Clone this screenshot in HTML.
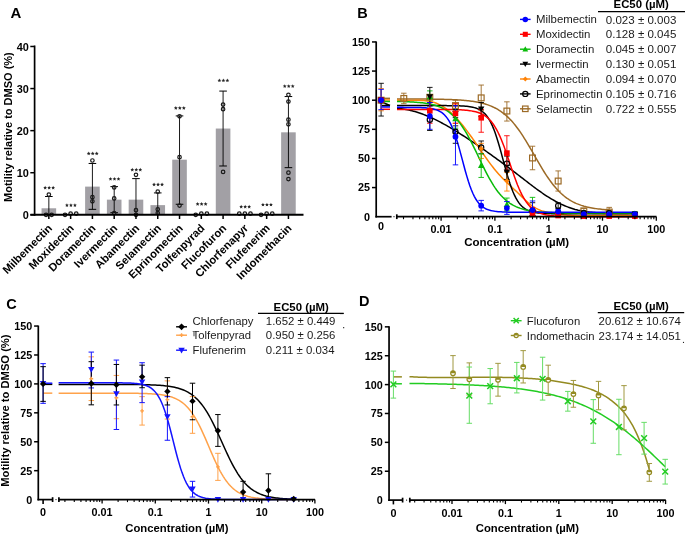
<!DOCTYPE html>
<html><head><meta charset="utf-8"><style>
html,body{margin:0;padding:0;background:#fff;overflow:hidden;}
svg{display:block;font-family:"Liberation Sans", sans-serif;will-change:transform;}
</style></head><body>
<svg width="685" height="535" viewBox="0 0 685 535">
<rect width="685" height="535" fill="#fff"/>
<text x="10.5" y="18.2" font-size="15" font-weight="bold" text-anchor="start" fill="#000" >A</text>
<text transform="translate(12.1,127.1) rotate(-90)" font-size="11" font-weight="bold" text-anchor="middle">Motility relative to DMSO (%)</text>
<rect x="41.55" y="208.28" width="14.6" height="6.52" fill="#a2a0a5" />
<rect x="63.33" y="214.17" width="14.6" height="0.63" fill="#a2a0a5" />
<rect x="85.11" y="186.61" width="14.6" height="28.19" fill="#a2a0a5" />
<rect x="106.89" y="199.65" width="14.6" height="15.15" fill="#a2a0a5" />
<rect x="128.67" y="199.65" width="14.6" height="15.15" fill="#a2a0a5" />
<rect x="150.45" y="205.12" width="14.6" height="9.68" fill="#a2a0a5" />
<rect x="172.23" y="159.68" width="14.6" height="55.12" fill="#a2a0a5" />
<rect x="194.01" y="214.38" width="14.6" height="0.42" fill="#a2a0a5" />
<rect x="215.79" y="128.54" width="14.6" height="86.26" fill="#a2a0a5" />
<rect x="237.57" y="213.96" width="14.6" height="0.84" fill="#a2a0a5" />
<rect x="259.35" y="214.38" width="14.6" height="0.42" fill="#a2a0a5" />
<rect x="281.13" y="132.32" width="14.6" height="82.48" fill="#a2a0a5" />
<line x1="48.85" y1="196.5" x2="48.85" y2="214.8" stroke="#000" stroke-width="0.9" />
<line x1="45.05" y1="196.5" x2="52.65" y2="196.5" stroke="#000" stroke-width="1.0" />
<circle cx="48.85" cy="194.6" r="1.75" fill="none" stroke="#1a1a1a" stroke-width="1.2"/>
<circle cx="46.05" cy="214.8" r="1.75" fill="none" stroke="#1a1a1a" stroke-width="1.2"/>
<circle cx="51.65" cy="214.8" r="1.75" fill="none" stroke="#1a1a1a" stroke-width="1.2"/>
<path d="M45.15 185.8L45.71 187.03L47.05 187.18L46.05 188.09L46.33 189.42L45.15 188.75L43.97 189.42L44.25 188.09L43.25 187.18L44.59 187.03Z" fill="#262626"/>
<path d="M49.15 185.8L49.71 187.03L51.05 187.18L50.05 188.09L50.33 189.42L49.15 188.75L47.97 189.42L48.25 188.09L47.25 187.18L48.59 187.03Z" fill="#262626"/>
<path d="M53.15 185.8L53.71 187.03L55.05 187.18L54.05 188.09L54.33 189.42L53.15 188.75L51.97 189.42L52.25 188.09L51.25 187.18L52.59 187.03Z" fill="#262626"/>
<circle cx="65.03" cy="214.8" r="1.75" fill="none" stroke="#1a1a1a" stroke-width="1.2"/>
<circle cx="70.63" cy="213.54" r="1.75" fill="none" stroke="#1a1a1a" stroke-width="1.2"/>
<circle cx="76.23" cy="213.54" r="1.75" fill="none" stroke="#1a1a1a" stroke-width="1.2"/>
<path d="M66.93 203.3L67.49 204.53L68.83 204.68L67.83 205.59L68.11 206.92L66.93 206.25L65.75 206.92L66.03 205.59L65.03 204.68L66.37 204.53Z" fill="#262626"/>
<path d="M70.93 203.3L71.49 204.53L72.83 204.68L71.83 205.59L72.11 206.92L70.93 206.25L69.75 206.92L70.03 205.59L69.03 204.68L70.37 204.53Z" fill="#262626"/>
<path d="M74.93 203.3L75.49 204.53L76.83 204.68L75.83 205.59L76.11 206.92L74.93 206.25L73.75 206.92L74.03 205.59L73.03 204.68L74.37 204.53Z" fill="#262626"/>
<line x1="92.41" y1="163.46" x2="92.41" y2="209.33" stroke="#000" stroke-width="0.9" />
<line x1="88.61" y1="163.46" x2="96.21" y2="163.46" stroke="#000" stroke-width="1.0" />
<line x1="88.61" y1="209.33" x2="96.21" y2="209.33" stroke="#000" stroke-width="1.0" />
<circle cx="92.41" cy="160.52" r="1.75" fill="none" stroke="#1a1a1a" stroke-width="1.2"/>
<circle cx="92.41" cy="197.13" r="1.75" fill="none" stroke="#1a1a1a" stroke-width="1.2"/>
<circle cx="92.41" cy="201.33" r="1.75" fill="none" stroke="#1a1a1a" stroke-width="1.2"/>
<path d="M88.71 151.6L89.27 152.83L90.61 152.98L89.61 153.89L89.89 155.22L88.71 154.55L87.53 155.22L87.81 153.89L86.81 152.98L88.15 152.83Z" fill="#262626"/>
<path d="M92.71 151.6L93.27 152.83L94.61 152.98L93.61 153.89L93.89 155.22L92.71 154.55L91.53 155.22L91.81 153.89L90.81 152.98L92.15 152.83Z" fill="#262626"/>
<path d="M96.71 151.6L97.27 152.83L98.61 152.98L97.61 153.89L97.89 155.22L96.71 154.55L95.53 155.22L95.81 153.89L94.81 152.98L96.15 152.83Z" fill="#262626"/>
<line x1="114.19" y1="186.61" x2="114.19" y2="212.7" stroke="#000" stroke-width="0.9" />
<line x1="110.39" y1="186.61" x2="117.99" y2="186.61" stroke="#000" stroke-width="1.0" />
<line x1="110.39" y1="212.7" x2="117.99" y2="212.7" stroke="#000" stroke-width="1.0" />
<circle cx="114.19" cy="187.45" r="1.75" fill="none" stroke="#1a1a1a" stroke-width="1.2"/>
<circle cx="114.19" cy="198.39" r="1.75" fill="none" stroke="#1a1a1a" stroke-width="1.2"/>
<circle cx="114.19" cy="213.12" r="1.75" fill="none" stroke="#1a1a1a" stroke-width="1.2"/>
<path d="M110.49 177L111.05 178.23L112.39 178.38L111.39 179.29L111.67 180.62L110.49 179.95L109.31 180.62L109.59 179.29L108.59 178.38L109.93 178.23Z" fill="#262626"/>
<path d="M114.49 177L115.05 178.23L116.39 178.38L115.39 179.29L115.67 180.62L114.49 179.95L113.31 180.62L113.59 179.29L112.59 178.38L113.93 178.23Z" fill="#262626"/>
<path d="M118.49 177L119.05 178.23L120.39 178.38L119.39 179.29L119.67 180.62L118.49 179.95L117.31 180.62L117.59 179.29L116.59 178.38L117.93 178.23Z" fill="#262626"/>
<line x1="135.97" y1="178.61" x2="135.97" y2="214.8" stroke="#000" stroke-width="0.9" />
<line x1="132.17" y1="178.61" x2="139.77" y2="178.61" stroke="#000" stroke-width="1.0" />
<circle cx="135.97" cy="174.82" r="1.75" fill="none" stroke="#1a1a1a" stroke-width="1.2"/>
<circle cx="135.97" cy="210.17" r="1.75" fill="none" stroke="#1a1a1a" stroke-width="1.2"/>
<circle cx="135.97" cy="214.8" r="1.75" fill="none" stroke="#1a1a1a" stroke-width="1.2"/>
<path d="M132.27 167.8L132.83 169.03L134.17 169.18L133.17 170.09L133.45 171.42L132.27 170.75L131.09 171.42L131.37 170.09L130.37 169.18L131.71 169.03Z" fill="#262626"/>
<path d="M136.27 167.8L136.83 169.03L138.17 169.18L137.17 170.09L137.45 171.42L136.27 170.75L135.09 171.42L135.37 170.09L134.37 169.18L135.71 169.03Z" fill="#262626"/>
<path d="M140.27 167.8L140.83 169.03L142.17 169.18L141.17 170.09L141.45 171.42L140.27 170.75L139.09 171.42L139.37 170.09L138.37 169.18L139.71 169.03Z" fill="#262626"/>
<line x1="157.75" y1="192.92" x2="157.75" y2="214.8" stroke="#000" stroke-width="0.9" />
<line x1="153.95" y1="192.92" x2="161.55" y2="192.92" stroke="#000" stroke-width="1.0" />
<circle cx="157.75" cy="191.66" r="1.75" fill="none" stroke="#1a1a1a" stroke-width="1.2"/>
<circle cx="157.75" cy="209.33" r="1.75" fill="none" stroke="#1a1a1a" stroke-width="1.2"/>
<circle cx="157.75" cy="213.12" r="1.75" fill="none" stroke="#1a1a1a" stroke-width="1.2"/>
<path d="M154.05 182.6L154.61 183.83L155.95 183.98L154.95 184.89L155.23 186.22L154.05 185.55L152.87 186.22L153.15 184.89L152.15 183.98L153.49 183.83Z" fill="#262626"/>
<path d="M158.05 182.6L158.61 183.83L159.95 183.98L158.95 184.89L159.23 186.22L158.05 185.55L156.87 186.22L157.15 184.89L156.15 183.98L157.49 183.83Z" fill="#262626"/>
<path d="M162.05 182.6L162.61 183.83L163.95 183.98L162.95 184.89L163.23 186.22L162.05 185.55L160.87 186.22L161.15 184.89L160.15 183.98L161.49 183.83Z" fill="#262626"/>
<line x1="179.53" y1="115.91" x2="179.53" y2="204.28" stroke="#000" stroke-width="0.9" />
<line x1="175.73" y1="115.91" x2="183.33" y2="115.91" stroke="#000" stroke-width="1.0" />
<line x1="175.73" y1="204.28" x2="183.33" y2="204.28" stroke="#000" stroke-width="1.0" />
<circle cx="179.53" cy="116.33" r="1.75" fill="none" stroke="#1a1a1a" stroke-width="1.2"/>
<circle cx="179.53" cy="157.15" r="1.75" fill="none" stroke="#1a1a1a" stroke-width="1.2"/>
<circle cx="179.53" cy="205.54" r="1.75" fill="none" stroke="#1a1a1a" stroke-width="1.2"/>
<path d="M175.83 106.1L176.39 107.33L177.73 107.48L176.73 108.39L177.01 109.72L175.83 109.05L174.65 109.72L174.93 108.39L173.93 107.48L175.27 107.33Z" fill="#262626"/>
<path d="M179.83 106.1L180.39 107.33L181.73 107.48L180.73 108.39L181.01 109.72L179.83 109.05L178.65 109.72L178.93 108.39L177.93 107.48L179.27 107.33Z" fill="#262626"/>
<path d="M183.83 106.1L184.39 107.33L185.73 107.48L184.73 108.39L185.01 109.72L183.83 109.05L182.65 109.72L182.93 108.39L181.93 107.48L183.27 107.33Z" fill="#262626"/>
<circle cx="195.71" cy="214.8" r="1.75" fill="none" stroke="#1a1a1a" stroke-width="1.2"/>
<circle cx="201.31" cy="213.54" r="1.75" fill="none" stroke="#1a1a1a" stroke-width="1.2"/>
<circle cx="206.91" cy="213.54" r="1.75" fill="none" stroke="#1a1a1a" stroke-width="1.2"/>
<path d="M197.61 202.1L198.17 203.33L199.51 203.48L198.51 204.39L198.79 205.72L197.61 205.05L196.43 205.72L196.71 204.39L195.71 203.48L197.05 203.33Z" fill="#262626"/>
<path d="M201.61 202.1L202.17 203.33L203.51 203.48L202.51 204.39L202.79 205.72L201.61 205.05L200.43 205.72L200.71 204.39L199.71 203.48L201.05 203.33Z" fill="#262626"/>
<path d="M205.61 202.1L206.17 203.33L207.51 203.48L206.51 204.39L206.79 205.72L205.61 205.05L204.43 205.72L204.71 204.39L203.71 203.48L205.05 203.33Z" fill="#262626"/>
<line x1="223.09" y1="91.08" x2="223.09" y2="165.99" stroke="#000" stroke-width="0.9" />
<line x1="219.29" y1="91.08" x2="226.89" y2="91.08" stroke="#000" stroke-width="1.0" />
<line x1="219.29" y1="165.99" x2="226.89" y2="165.99" stroke="#000" stroke-width="1.0" />
<circle cx="223.09" cy="104.55" r="1.75" fill="none" stroke="#1a1a1a" stroke-width="1.2"/>
<circle cx="223.09" cy="109.18" r="1.75" fill="none" stroke="#1a1a1a" stroke-width="1.2"/>
<circle cx="223.09" cy="171.88" r="1.75" fill="none" stroke="#1a1a1a" stroke-width="1.2"/>
<path d="M219.39 78.5L219.95 79.73L221.29 79.88L220.29 80.79L220.57 82.12L219.39 81.45L218.21 82.12L218.49 80.79L217.49 79.88L218.83 79.73Z" fill="#262626"/>
<path d="M223.39 78.5L223.95 79.73L225.29 79.88L224.29 80.79L224.57 82.12L223.39 81.45L222.21 82.12L222.49 80.79L221.49 79.88L222.83 79.73Z" fill="#262626"/>
<path d="M227.39 78.5L227.95 79.73L229.29 79.88L228.29 80.79L228.57 82.12L227.39 81.45L226.21 82.12L226.49 80.79L225.49 79.88L226.83 79.73Z" fill="#262626"/>
<circle cx="239.27" cy="213.54" r="1.75" fill="none" stroke="#1a1a1a" stroke-width="1.2"/>
<circle cx="244.87" cy="213.54" r="1.75" fill="none" stroke="#1a1a1a" stroke-width="1.2"/>
<circle cx="250.47" cy="213.54" r="1.75" fill="none" stroke="#1a1a1a" stroke-width="1.2"/>
<path d="M241.17 204.8L241.73 206.03L243.07 206.18L242.07 207.09L242.35 208.42L241.17 207.75L239.99 208.42L240.27 207.09L239.27 206.18L240.61 206.03Z" fill="#262626"/>
<path d="M245.17 204.8L245.73 206.03L247.07 206.18L246.07 207.09L246.35 208.42L245.17 207.75L243.99 208.42L244.27 207.09L243.27 206.18L244.61 206.03Z" fill="#262626"/>
<path d="M249.17 204.8L249.73 206.03L251.07 206.18L250.07 207.09L250.35 208.42L249.17 207.75L247.99 208.42L248.27 207.09L247.27 206.18L248.61 206.03Z" fill="#262626"/>
<circle cx="261.05" cy="214.8" r="1.75" fill="none" stroke="#1a1a1a" stroke-width="1.2"/>
<circle cx="266.65" cy="213.54" r="1.75" fill="none" stroke="#1a1a1a" stroke-width="1.2"/>
<circle cx="272.25" cy="213.54" r="1.75" fill="none" stroke="#1a1a1a" stroke-width="1.2"/>
<path d="M262.95 202.7L263.51 203.93L264.85 204.08L263.85 204.99L264.13 206.32L262.95 205.65L261.77 206.32L262.05 204.99L261.05 204.08L262.39 203.93Z" fill="#262626"/>
<path d="M266.95 202.7L267.51 203.93L268.85 204.08L267.85 204.99L268.13 206.32L266.95 205.65L265.77 206.32L266.05 204.99L265.05 204.08L266.39 203.93Z" fill="#262626"/>
<path d="M270.95 202.7L271.51 203.93L272.85 204.08L271.85 204.99L272.13 206.32L270.95 205.65L269.77 206.32L270.05 204.99L269.05 204.08L270.39 203.93Z" fill="#262626"/>
<line x1="288.43" y1="96.56" x2="288.43" y2="167.67" stroke="#000" stroke-width="0.9" />
<line x1="284.63" y1="96.56" x2="292.23" y2="96.56" stroke="#000" stroke-width="1.0" />
<line x1="284.63" y1="167.67" x2="292.23" y2="167.67" stroke="#000" stroke-width="1.0" />
<circle cx="288.43" cy="94.87" r="1.75" fill="none" stroke="#1a1a1a" stroke-width="1.2"/>
<circle cx="288.43" cy="101.6" r="1.75" fill="none" stroke="#1a1a1a" stroke-width="1.2"/>
<circle cx="288.43" cy="119.7" r="1.75" fill="none" stroke="#1a1a1a" stroke-width="1.2"/>
<circle cx="288.43" cy="124.33" r="1.75" fill="none" stroke="#1a1a1a" stroke-width="1.2"/>
<circle cx="288.43" cy="172.72" r="1.75" fill="none" stroke="#1a1a1a" stroke-width="1.2"/>
<circle cx="288.43" cy="179.03" r="1.75" fill="none" stroke="#1a1a1a" stroke-width="1.2"/>
<path d="M284.73 84.2L285.29 85.43L286.63 85.58L285.63 86.49L285.91 87.82L284.73 87.15L283.55 87.82L283.83 86.49L282.83 85.58L284.17 85.43Z" fill="#262626"/>
<path d="M288.73 84.2L289.29 85.43L290.63 85.58L289.63 86.49L289.91 87.82L288.73 87.15L287.55 87.82L287.83 86.49L286.83 85.58L288.17 85.43Z" fill="#262626"/>
<path d="M292.73 84.2L293.29 85.43L294.63 85.58L293.63 86.49L293.91 87.82L292.73 87.15L291.55 87.82L291.83 86.49L290.83 85.58L292.17 85.43Z" fill="#262626"/>
<line x1="34.6" y1="45.5" x2="34.6" y2="215.8" stroke="#000" stroke-width="1.7" />
<line x1="30.4" y1="214.8" x2="303.5" y2="214.8" stroke="#000" stroke-width="2" />
<line x1="30.3" y1="214.8" x2="34.6" y2="214.8" stroke="#000" stroke-width="1.5" />
<text x="28.8" y="219.1" font-size="10.9" font-weight="bold" text-anchor="end" fill="#000" >0</text>
<line x1="30.3" y1="172.72" x2="34.6" y2="172.72" stroke="#000" stroke-width="1.5" />
<text x="28.8" y="177.02" font-size="10.9" font-weight="bold" text-anchor="end" fill="#000" >10</text>
<line x1="30.3" y1="130.64" x2="34.6" y2="130.64" stroke="#000" stroke-width="1.5" />
<text x="28.8" y="134.94" font-size="10.9" font-weight="bold" text-anchor="end" fill="#000" >20</text>
<line x1="30.3" y1="88.56" x2="34.6" y2="88.56" stroke="#000" stroke-width="1.5" />
<text x="28.8" y="92.86" font-size="10.9" font-weight="bold" text-anchor="end" fill="#000" >30</text>
<line x1="30.3" y1="46.48" x2="34.6" y2="46.48" stroke="#000" stroke-width="1.5" />
<text x="28.8" y="50.78" font-size="10.9" font-weight="bold" text-anchor="end" fill="#000" >40</text>
<line x1="48.85" y1="214.8" x2="48.85" y2="219" stroke="#000" stroke-width="1.5" />
<text transform="translate(52.85,228.8) rotate(-45)" font-size="11.2" font-weight="bold" text-anchor="end">Milbemectin</text>
<line x1="70.63" y1="214.8" x2="70.63" y2="219" stroke="#000" stroke-width="1.5" />
<text transform="translate(74.63,228.8) rotate(-45)" font-size="11.2" font-weight="bold" text-anchor="end">Moxidectin</text>
<line x1="92.41" y1="214.8" x2="92.41" y2="219" stroke="#000" stroke-width="1.5" />
<text transform="translate(96.41,228.8) rotate(-45)" font-size="11.2" font-weight="bold" text-anchor="end">Doramectin</text>
<line x1="114.19" y1="214.8" x2="114.19" y2="219" stroke="#000" stroke-width="1.5" />
<text transform="translate(118.19,228.8) rotate(-45)" font-size="11.2" font-weight="bold" text-anchor="end">Ivermectin</text>
<line x1="135.97" y1="214.8" x2="135.97" y2="219" stroke="#000" stroke-width="1.5" />
<text transform="translate(139.97,228.8) rotate(-45)" font-size="11.2" font-weight="bold" text-anchor="end">Abamectin</text>
<line x1="157.75" y1="214.8" x2="157.75" y2="219" stroke="#000" stroke-width="1.5" />
<text transform="translate(161.75,228.8) rotate(-45)" font-size="11.2" font-weight="bold" text-anchor="end">Selamectin</text>
<line x1="179.53" y1="214.8" x2="179.53" y2="219" stroke="#000" stroke-width="1.5" />
<text transform="translate(183.53,228.8) rotate(-45)" font-size="11.2" font-weight="bold" text-anchor="end">Eprinomectin</text>
<line x1="201.31" y1="214.8" x2="201.31" y2="219" stroke="#000" stroke-width="1.5" />
<text transform="translate(205.31,228.8) rotate(-45)" font-size="11.2" font-weight="bold" text-anchor="end">Tolfenpyrad</text>
<line x1="223.09" y1="214.8" x2="223.09" y2="219" stroke="#000" stroke-width="1.5" />
<text transform="translate(227.09,228.8) rotate(-45)" font-size="11.2" font-weight="bold" text-anchor="end">Flucofuron</text>
<line x1="244.87" y1="214.8" x2="244.87" y2="219" stroke="#000" stroke-width="1.5" />
<text transform="translate(248.87,228.8) rotate(-45)" font-size="11.2" font-weight="bold" text-anchor="end">Chlorfenapyr</text>
<line x1="266.65" y1="214.8" x2="266.65" y2="219" stroke="#000" stroke-width="1.5" />
<text transform="translate(270.65,228.8) rotate(-45)" font-size="11.2" font-weight="bold" text-anchor="end">Flufenerim</text>
<line x1="288.43" y1="214.8" x2="288.43" y2="219" stroke="#000" stroke-width="1.5" />
<text transform="translate(292.43,228.8) rotate(-45)" font-size="11.2" font-weight="bold" text-anchor="end">Indomethacin</text>
<text x="357.3" y="18.1" font-size="14.5" font-weight="bold" text-anchor="start" fill="#000" >B</text>
<path d="M397 99.01L398.33 99.01L399.65 99.01L400.98 99.02L402.31 99.02L403.63 99.02L404.96 99.02L406.28 99.03L407.61 99.03L408.94 99.03L410.26 99.04L411.59 99.04L412.92 99.05L414.24 99.05L415.57 99.06L416.9 99.06L418.22 99.07L419.55 99.08L420.87 99.08L422.2 99.09L423.53 99.1L424.85 99.11L426.18 99.12L427.51 99.13L428.83 99.14L430.16 99.16L431.49 99.17L432.81 99.19L434.14 99.2L435.46 99.22L436.79 99.24L438.12 99.26L439.44 99.29L440.77 99.31L442.1 99.34L443.42 99.37L444.75 99.41L446.07 99.44L447.4 99.48L448.73 99.52L450.05 99.57L451.38 99.62L452.71 99.67L454.03 99.73L455.36 99.8L456.69 99.87L458.01 99.94L459.34 100.02L460.66 100.11L461.99 100.21L463.32 100.31L464.64 100.42L465.97 100.55L467.3 100.68L468.62 100.82L469.95 100.98L471.28 101.15L472.6 101.33L473.93 101.53L475.25 101.74L476.58 101.97L477.91 102.22L479.23 102.49L480.56 102.78L481.89 103.1L483.21 103.44L484.54 103.81L485.87 104.21L487.19 104.63L488.52 105.1L489.84 105.59L491.17 106.13L492.5 106.7L493.82 107.32L495.15 107.98L496.48 108.69L497.8 109.45L499.13 110.26L500.46 111.13L501.78 112.06L503.11 113.04L504.43 114.09L505.76 115.21L507.09 116.39L508.41 117.65L509.74 118.97L511.07 120.37L512.39 121.84L513.72 123.38L515.05 125L516.37 126.69L517.7 128.46L519.02 130.29L520.35 132.19L521.68 134.16L523 136.19L524.33 138.28L525.66 140.42L526.98 142.6L528.31 144.83L529.63 147.09L530.96 149.37L532.29 151.68L533.61 153.99L534.94 156.31L536.27 158.63L537.59 160.93L538.92 163.21L540.25 165.46L541.57 167.68L542.9 169.86L544.22 171.99L545.55 174.07L546.88 176.09L548.2 178.04L549.53 179.94L550.86 181.76L552.18 183.51L553.51 185.19L554.84 186.8L556.16 188.33L557.49 189.79L558.81 191.17L560.14 192.48L561.47 193.73L562.79 194.9L564.12 196L565.45 197.04L566.77 198.02L568.1 198.94L569.43 199.8L570.75 200.6L572.08 201.35L573.4 202.05L574.73 202.71L576.06 203.32L577.38 203.89L578.71 204.41L580.04 204.9L581.36 205.36L582.69 205.78L584.02 206.18L585.34 206.54L586.67 206.88L587.99 207.19L589.32 207.48L590.65 207.74L591.97 207.99L593.3 208.22L594.63 208.43L595.95 208.62L597.28 208.81L598.61 208.97L599.93 209.12L601.26 209.27L602.58 209.4L603.91 209.52L605.24 209.63L606.56 209.73L607.89 209.83L609.22 209.91" fill="none" stroke="#9c6a26" stroke-width="1.5"/>
<line x1="381.5" y1="98.34" x2="390" y2="98.34" stroke="#9c6a26" stroke-width="1.5" />
<path d="M397 108.41L398.5 108.51L399.99 108.64L401.49 108.8L402.99 109L404.48 109.22L405.98 109.48L407.48 109.76L408.97 110.07L410.47 110.41L411.97 110.78L413.47 111.17L414.96 111.59L416.46 112.03L417.96 112.5L419.45 113L420.95 113.52L422.45 114.06L423.94 114.62L425.44 115.21L426.94 115.82L428.43 116.45L429.93 117.1L431.43 117.77L432.92 118.46L434.42 119.17L435.92 119.89L437.42 120.64L438.91 121.4L440.41 122.18L441.91 122.97L443.4 123.79L444.9 124.61L446.4 125.45L447.89 126.31L449.39 127.17L450.89 128.05L452.38 128.95L453.88 129.85L455.38 130.77L456.87 131.69L458.37 132.63L459.87 133.58L461.36 134.53L462.86 135.5L464.36 136.47L465.86 137.45L467.35 138.43L468.85 139.43L470.35 140.42L471.84 141.43L473.34 142.43L474.84 143.45L476.33 144.47L477.83 145.49L479.33 146.52L480.82 147.56L482.32 148.6L483.82 149.64L485.31 150.7L486.81 151.75L488.31 152.81L489.81 153.88L491.3 154.95L492.8 156.02L494.3 157.1L495.79 158.19L497.29 159.28L498.79 160.37L500.28 161.47L501.78 162.57L503.28 163.68L504.77 164.79L506.27 165.91L507.77 167.03L509.26 168.16L510.76 169.29L512.26 170.42L513.75 171.56L515.25 172.7L516.75 173.84L518.25 174.99L519.74 176.15L521.24 177.3L522.74 178.46L524.23 179.62L525.73 180.78L527.23 181.94L528.72 183.09L530.22 184.23L531.72 185.37L533.21 186.5L534.71 187.62L536.21 188.73L537.7 189.82L539.2 190.9L540.7 191.96L542.19 193.01L543.69 194.03L545.19 195.03L546.69 196.01L548.18 196.97L549.68 197.89L551.18 198.8L552.67 199.67L554.17 200.52L555.67 201.35L557.16 202.14L558.66 202.91L560.16 203.65L561.65 204.36L563.15 205.05L564.65 205.7L566.14 206.32L567.64 206.92L569.14 207.48L570.64 208.01L572.13 208.51L573.63 208.98L575.13 209.42L576.62 209.82L578.12 210.2L579.62 210.54L581.11 210.85L582.61 211.14L584.11 211.39L585.6 211.63L587.1 211.84L588.6 212.02L590.09 212.18L591.59 212.33L593.09 212.45L594.58 212.56L596.08 212.65L597.58 212.72L599.08 212.78L600.57 212.82L602.07 212.86L603.57 212.88L605.06 212.9L606.56 212.9L608.06 212.9L609.55 212.89L611.05 212.88L612.55 212.87L614.04 212.85L615.54 212.83L617.04 212.82L618.53 212.8L620.03 212.79L621.53 212.78L623.03 212.78L624.52 212.78L626.02 212.79L627.52 212.81L629.01 212.85L630.51 212.89L632.01 212.94L633.5 213.01L635 213.1" fill="none" stroke="#000" stroke-width="1.5"/>
<line x1="381.5" y1="102.06" x2="390" y2="105.56" stroke="#000" stroke-width="1.5" />
<path d="M397 100.02L398.5 100.18L399.99 100.3L401.49 100.39L402.99 100.45L404.48 100.48L405.98 100.49L407.48 100.49L408.97 100.47L410.47 100.45L411.97 100.42L413.47 100.39L414.96 100.37L416.46 100.35L417.96 100.35L419.45 100.37L420.95 100.42L422.45 100.49L423.94 100.59L425.44 100.73L426.94 100.9L428.43 101.13L429.93 101.4L431.43 101.73L432.92 102.11L434.42 102.56L435.92 103.07L437.42 103.66L438.91 104.32L440.41 105.06L441.91 105.89L443.4 106.8L444.9 107.8L446.4 108.89L447.89 110.05L449.39 111.3L450.89 112.62L452.38 114.01L453.88 115.48L455.38 117.01L456.87 118.6L458.37 120.26L459.87 121.98L461.36 123.76L462.86 125.58L464.36 127.46L465.86 129.39L467.35 131.37L468.85 133.38L470.35 135.44L471.84 137.53L473.34 139.65L474.84 141.8L476.33 143.96L477.83 146.13L479.33 148.3L480.82 150.48L482.32 152.64L483.82 154.79L485.31 156.93L486.81 159.03L488.31 161.1L489.81 163.14L491.3 165.13L492.8 167.07L494.3 168.96L495.79 170.78L497.29 172.53L498.79 174.23L500.28 175.86L501.78 177.44L503.28 178.98L504.77 180.48L506.27 181.95L507.77 183.39L509.26 184.81L510.76 186.21L512.26 187.6L513.75 189L515.25 190.39L516.75 191.8L518.25 193.22L519.74 194.66L521.24 196.12L522.74 197.6L524.23 199.07L525.73 200.51L527.23 201.9L528.72 203.24L530.22 204.49L531.72 205.65L533.21 206.7L534.71 207.63L536.21 208.45L537.7 209.17L539.2 209.81L540.7 210.37L542.19 210.86L543.69 211.3L545.19 211.7L546.69 212.07L548.18 212.41L549.68 212.73L551.18 213.03L552.67 213.31L554.17 213.57L555.67 213.81L557.16 214.04L558.66 214.24L560.16 214.43L561.65 214.61L563.15 214.77L564.65 214.91L566.14 215.04L567.64 215.16L569.14 215.26L570.64 215.35L572.13 215.43L573.63 215.5L575.13 215.55L576.62 215.6L578.12 215.63L579.62 215.66L581.11 215.68L582.61 215.69L584.11 215.7L585.6 215.69L587.1 215.68L588.6 215.67L590.09 215.65L591.59 215.63L593.09 215.6L594.58 215.57L596.08 215.54L597.58 215.51L599.08 215.47L600.57 215.43L602.07 215.4L603.57 215.36L605.06 215.33L606.56 215.3L608.06 215.26L609.55 215.24L611.05 215.21L612.55 215.19L614.04 215.18L615.54 215.17L617.04 215.16L618.53 215.17L620.03 215.18L621.53 215.19L623.03 215.22L624.52 215.25L626.02 215.29L627.52 215.35L629.01 215.41L630.51 215.49L632.01 215.57L633.5 215.67L635 215.79" fill="none" stroke="#ff8205" stroke-width="1.5"/>
<line x1="381.5" y1="99.97" x2="390" y2="99.97" stroke="#ff8205" stroke-width="1.5" />
<path d="M397 105.58L398.49 105.58L399.97 105.58L401.46 105.58L402.95 105.58L404.43 105.58L405.92 105.58L407.41 105.58L408.89 105.58L410.38 105.58L411.87 105.58L413.35 105.58L414.84 105.58L416.33 105.58L417.82 105.58L419.3 105.58L420.79 105.58L422.28 105.58L423.76 105.58L425.25 105.58L426.74 105.59L428.22 105.59L429.71 105.59L431.2 105.59L432.68 105.59L434.17 105.59L435.66 105.59L437.14 105.59L438.63 105.6L440.12 105.6L441.6 105.61L443.09 105.61L444.58 105.62L446.06 105.62L447.55 105.63L449.04 105.65L450.53 105.66L452.01 105.68L453.5 105.7L454.99 105.73L456.47 105.76L457.96 105.8L459.45 105.85L460.93 105.91L462.42 105.98L463.91 106.07L465.39 106.18L466.88 106.32L468.37 106.48L469.85 106.69L471.34 106.94L472.83 107.24L474.31 107.61L475.8 108.06L477.29 108.61L478.77 109.27L480.26 110.07L481.75 111.04L483.24 112.21L484.72 113.6L486.21 115.26L487.7 117.23L489.18 119.54L490.67 122.22L492.16 125.31L493.64 128.84L495.13 132.8L496.62 137.18L498.1 141.95L499.59 147.05L501.08 152.4L502.56 157.9L504.05 163.43L505.54 168.89L507.02 174.16L508.51 179.16L510 183.79L511.48 188.03L512.97 191.83L514.46 195.2L515.95 198.15L517.43 200.69L518.92 202.88L520.41 204.73L521.89 206.29L523.38 207.6L524.87 208.69L526.35 209.6L527.84 210.35L529.33 210.97L530.81 211.48L532.3 211.9L533.79 212.25L535.27 212.53L536.76 212.76L538.25 212.95L539.73 213.1L541.22 213.23L542.71 213.33L544.19 213.42L545.68 213.48L547.17 213.54L548.66 213.59L550.14 213.62L551.63 213.65L553.12 213.68L554.6 213.7L556.09 213.72L557.58 213.73L559.06 213.74L560.55 213.75L562.04 213.76L563.52 213.76L565.01 213.77L566.5 213.77L567.98 213.77L569.47 213.78L570.96 213.78L572.44 213.78L573.93 213.78L575.42 213.78L576.9 213.78L578.39 213.78L579.88 213.78L581.37 213.79L582.85 213.79L584.34 213.79L585.83 213.79L587.31 213.79L588.8 213.79L590.29 213.79L591.77 213.79L593.26 213.79L594.75 213.79L596.23 213.79L597.72 213.79L599.21 213.79L600.69 213.79L602.18 213.79L603.67 213.79L605.15 213.79L606.64 213.79L608.13 213.79L609.61 213.79L611.1 213.79L612.59 213.79L614.08 213.79L615.56 213.79L617.05 213.79L618.54 213.79L620.02 213.79L621.51 213.79L623 213.79L624.48 213.79L625.97 213.79L627.46 213.79L628.94 213.79L630.43 213.79L631.92 213.79L633.4 213.79L634.89 213.79" fill="none" stroke="#000" stroke-width="1.5"/>
<line x1="381.5" y1="105.56" x2="390" y2="105.56" stroke="#000" stroke-width="1.5" />
<path d="M397 101.47L398.49 101.5L399.97 101.53L401.46 101.57L402.95 101.61L404.43 101.65L405.92 101.7L407.41 101.76L408.89 101.82L410.38 101.89L411.87 101.97L413.35 102.06L414.84 102.16L416.33 102.27L417.82 102.39L419.3 102.52L420.79 102.67L422.28 102.84L423.76 103.03L425.25 103.24L426.74 103.47L428.22 103.73L429.71 104.01L431.2 104.33L432.68 104.69L434.17 105.08L435.66 105.52L437.14 106L438.63 106.54L440.12 107.13L441.6 107.79L443.09 108.51L444.58 109.31L446.06 110.18L447.55 111.14L449.04 112.2L450.53 113.35L452.01 114.61L453.5 115.97L454.99 117.46L456.47 119.07L457.96 120.8L459.45 122.66L460.93 124.66L462.42 126.79L463.91 129.05L465.39 131.44L466.88 133.96L468.37 136.6L469.85 139.35L471.34 142.19L472.83 145.12L474.31 148.12L475.8 151.18L477.29 154.27L478.77 157.38L480.26 160.49L481.75 163.58L483.24 166.63L484.72 169.62L486.21 172.54L487.7 175.37L489.18 178.1L490.67 180.72L492.16 183.22L493.64 185.59L495.13 187.83L496.62 189.94L498.1 191.92L499.59 193.76L501.08 195.47L502.56 197.06L504.05 198.53L505.54 199.88L507.02 201.12L508.51 202.25L510 203.29L511.48 204.24L512.97 205.1L514.46 205.89L515.95 206.6L517.43 207.24L518.92 207.83L520.41 208.36L521.89 208.83L523.38 209.26L524.87 209.65L526.35 210L527.84 210.31L529.33 210.59L530.81 210.85L532.3 211.08L533.79 211.28L535.27 211.47L536.76 211.63L538.25 211.78L539.73 211.91L541.22 212.03L542.71 212.14L544.19 212.23L545.68 212.32L547.17 212.4L548.66 212.47L550.14 212.53L551.63 212.58L553.12 212.63L554.6 212.68L556.09 212.72L557.58 212.75L559.06 212.78L560.55 212.81L562.04 212.84L563.52 212.86L565.01 212.88L566.5 212.9L567.98 212.91L569.47 212.93L570.96 212.94L572.44 212.95L573.93 212.96L575.42 212.97L576.9 212.98L578.39 212.99L579.88 213L581.37 213L582.85 213.01L584.34 213.01L585.83 213.02L587.31 213.02L588.8 213.02L590.29 213.03L591.77 213.03L593.26 213.03L594.75 213.03L596.23 213.04L597.72 213.04L599.21 213.04L600.69 213.04L602.18 213.04L603.67 213.04L605.15 213.04L606.64 213.05L608.13 213.05L609.61 213.05L611.1 213.05L612.59 213.05L614.08 213.05L615.56 213.05L617.05 213.05L618.54 213.05L620.02 213.05L621.51 213.05L623 213.05L624.48 213.05L625.97 213.05L627.46 213.05L628.94 213.05L630.43 213.05L631.92 213.05L633.4 213.05L634.89 213.05" fill="none" stroke="#08bb08" stroke-width="1.5"/>
<line x1="381.5" y1="101.48" x2="390" y2="101.48" stroke="#08bb08" stroke-width="1.5" />
<path d="M397 109.4L398.49 109.4L399.97 109.4L401.46 109.4L402.95 109.4L404.43 109.4L405.92 109.4L407.41 109.4L408.89 109.4L410.38 109.41L411.87 109.41L413.35 109.41L414.84 109.41L416.33 109.41L417.82 109.41L419.3 109.41L420.79 109.41L422.28 109.41L423.76 109.41L425.25 109.41L426.74 109.41L428.22 109.42L429.71 109.42L431.2 109.42L432.68 109.42L434.17 109.43L435.66 109.43L437.14 109.44L438.63 109.44L440.12 109.45L441.6 109.46L443.09 109.47L444.58 109.48L446.06 109.49L447.55 109.51L449.04 109.53L450.53 109.55L452.01 109.58L453.5 109.61L454.99 109.65L456.47 109.69L457.96 109.74L459.45 109.8L460.93 109.87L462.42 109.95L463.91 110.05L465.39 110.17L466.88 110.31L468.37 110.47L469.85 110.66L471.34 110.88L472.83 111.14L474.31 111.44L475.8 111.8L477.29 112.22L478.77 112.72L480.26 113.29L481.75 113.96L483.24 114.74L484.72 115.64L486.21 116.69L487.7 117.9L489.18 119.28L490.67 120.87L492.16 122.68L493.64 124.73L495.13 127.03L496.62 129.6L498.1 132.46L499.59 135.59L501.08 139.01L502.56 142.68L504.05 146.59L505.54 150.71L507.02 154.98L508.51 159.36L510 163.8L511.48 168.22L512.97 172.57L514.46 176.8L515.95 180.85L517.43 184.68L518.92 188.27L520.41 191.59L521.89 194.63L523.38 197.39L524.87 199.88L526.35 202.09L527.84 204.06L529.33 205.79L530.81 207.31L532.3 208.63L533.79 209.78L535.27 210.78L536.76 211.64L538.25 212.38L539.73 213.02L541.22 213.56L542.71 214.03L544.19 214.43L545.68 214.77L547.17 215.06L548.66 215.3L550.14 215.52L551.63 215.69L553.12 215.85L554.6 215.98L556.09 216.09L557.58 216.18L559.06 216.26L560.55 216.33L562.04 216.38L563.52 216.43L565.01 216.47L566.5 216.51L567.98 216.54L569.47 216.56L570.96 216.58L572.44 216.6L573.93 216.62L575.42 216.63L576.9 216.64L578.39 216.65L579.88 216.66L581.37 216.66L582.85 216.67L584.34 216.67L585.83 216.68L587.31 216.68L588.8 216.68L590.29 216.69L591.77 216.69L593.26 216.69L594.75 216.69L596.23 216.69L597.72 216.69L599.21 216.69L600.69 216.7L602.18 216.7L603.67 216.7L605.15 216.7L606.64 216.7L608.13 216.7L609.61 216.7L611.1 216.7L612.59 216.7L614.08 216.7L615.56 216.7L617.05 216.7L618.54 216.7L620.02 216.7L621.51 216.7L623 216.7L624.48 216.7L625.97 216.7L627.46 216.7L628.94 216.7L630.43 216.7L631.92 216.7L633.4 216.7L634.89 216.7" fill="none" stroke="#ff0000" stroke-width="1.5"/>
<line x1="381.5" y1="109.29" x2="390" y2="109.29" stroke="#ff0000" stroke-width="1.5" />
<path d="M397 107.36L398.49 107.36L399.97 107.37L401.46 107.37L402.95 107.37L404.43 107.38L405.92 107.39L407.41 107.39L408.89 107.4L410.38 107.41L411.87 107.43L413.35 107.45L414.84 107.47L416.33 107.5L417.82 107.53L419.3 107.57L420.79 107.62L422.28 107.69L423.76 107.77L425.25 107.87L426.74 107.99L428.22 108.14L429.71 108.32L431.2 108.55L432.68 108.83L434.17 109.17L435.66 109.6L437.14 110.12L438.63 110.75L440.12 111.53L441.6 112.47L443.09 113.62L444.58 114.99L446.06 116.65L447.55 118.62L449.04 120.95L450.53 123.68L452.01 126.84L453.5 130.45L454.99 134.52L456.47 139.02L457.96 143.92L459.45 149.15L460.93 154.61L462.42 160.18L463.91 165.75L465.39 171.18L466.88 176.37L468.37 181.23L469.85 185.68L471.34 189.68L472.83 193.23L474.31 196.33L475.8 199.01L477.29 201.29L478.77 203.21L480.26 204.83L481.75 206.18L483.24 207.29L484.72 208.21L486.21 208.97L487.7 209.58L489.18 210.09L490.67 210.5L492.16 210.84L493.64 211.11L495.13 211.33L496.62 211.51L498.1 211.66L499.59 211.77L501.08 211.87L502.56 211.95L504.05 212.01L505.54 212.06L507.02 212.1L508.51 212.13L510 212.16L511.48 212.18L512.97 212.2L514.46 212.21L515.95 212.22L517.43 212.23L518.92 212.24L520.41 212.25L521.89 212.25L523.38 212.26L524.87 212.26L526.35 212.26L527.84 212.26L529.33 212.27L530.81 212.27L532.3 212.27L533.79 212.27L535.27 212.27L536.76 212.27L538.25 212.27L539.73 212.27L541.22 212.27L542.71 212.27L544.19 212.27L545.68 212.27L547.17 212.27L548.66 212.27L550.14 212.27L551.63 212.27L553.12 212.27L554.6 212.27L556.09 212.27L557.58 212.27L559.06 212.27L560.55 212.27L562.04 212.27L563.52 212.27L565.01 212.27L566.5 212.27L567.98 212.27L569.47 212.27L570.96 212.27L572.44 212.27L573.93 212.27L575.42 212.27L576.9 212.27L578.39 212.27L579.88 212.27L581.37 212.27L582.85 212.27L584.34 212.27L585.83 212.27L587.31 212.27L588.8 212.27L590.29 212.27L591.77 212.27L593.26 212.27L594.75 212.27L596.23 212.27L597.72 212.27L599.21 212.27L600.69 212.27L602.18 212.27L603.67 212.27L605.15 212.27L606.64 212.27L608.13 212.27L609.61 212.27L611.1 212.27L612.59 212.27L614.08 212.27L615.56 212.27L617.05 212.27L618.54 212.27L620.02 212.27L621.51 212.27L623 212.27L624.48 212.27L625.97 212.27L627.46 212.27L628.94 212.27L630.43 212.27L631.92 212.27L633.4 212.27L634.89 212.27" fill="none" stroke="#0000ff" stroke-width="1.5"/>
<line x1="381.5" y1="106.96" x2="390" y2="106.96" stroke="#0000ff" stroke-width="1.5" />
<line x1="403.8" y1="93.21" x2="403.8" y2="103.69" stroke="#9c6a26" stroke-width="0.9" />
<line x1="401.05" y1="93.21" x2="406.55" y2="93.21" stroke="#9c6a26" stroke-width="0.9" />
<line x1="401.05" y1="103.69" x2="406.55" y2="103.69" stroke="#9c6a26" stroke-width="0.9" />
<line x1="455.47" y1="100.2" x2="455.47" y2="110.68" stroke="#9c6a26" stroke-width="0.9" />
<line x1="452.72" y1="100.2" x2="458.22" y2="100.2" stroke="#9c6a26" stroke-width="0.9" />
<line x1="452.72" y1="110.68" x2="458.22" y2="110.68" stroke="#9c6a26" stroke-width="0.9" />
<line x1="481.19" y1="85.05" x2="481.19" y2="110.68" stroke="#9c6a26" stroke-width="0.9" />
<line x1="478.44" y1="85.05" x2="483.94" y2="85.05" stroke="#9c6a26" stroke-width="0.9" />
<line x1="478.44" y1="110.68" x2="483.94" y2="110.68" stroke="#9c6a26" stroke-width="0.9" />
<line x1="506.88" y1="101.83" x2="506.88" y2="121.05" stroke="#9c6a26" stroke-width="0.9" />
<line x1="504.13" y1="101.83" x2="509.63" y2="101.83" stroke="#9c6a26" stroke-width="0.9" />
<line x1="504.13" y1="121.05" x2="509.63" y2="121.05" stroke="#9c6a26" stroke-width="0.9" />
<line x1="532.5" y1="146.22" x2="532.5" y2="169.75" stroke="#9c6a26" stroke-width="0.9" />
<line x1="529.75" y1="146.22" x2="535.25" y2="146.22" stroke="#9c6a26" stroke-width="0.9" />
<line x1="529.75" y1="169.75" x2="535.25" y2="169.75" stroke="#9c6a26" stroke-width="0.9" />
<line x1="558.17" y1="170.92" x2="558.17" y2="191.07" stroke="#9c6a26" stroke-width="0.9" />
<line x1="555.42" y1="170.92" x2="560.92" y2="170.92" stroke="#9c6a26" stroke-width="0.9" />
<line x1="555.42" y1="191.07" x2="560.92" y2="191.07" stroke="#9c6a26" stroke-width="0.9" />
<line x1="583.84" y1="208.54" x2="583.84" y2="213.2" stroke="#9c6a26" stroke-width="0.9" />
<line x1="581.09" y1="208.54" x2="586.59" y2="208.54" stroke="#9c6a26" stroke-width="0.9" />
<line x1="581.09" y1="213.2" x2="586.59" y2="213.2" stroke="#9c6a26" stroke-width="0.9" />
<line x1="609.22" y1="207.38" x2="609.22" y2="215.53" stroke="#9c6a26" stroke-width="0.9" />
<line x1="606.47" y1="207.38" x2="611.97" y2="207.38" stroke="#9c6a26" stroke-width="0.9" />
<line x1="606.47" y1="215.53" x2="611.97" y2="215.53" stroke="#9c6a26" stroke-width="0.9" />
<line x1="381.1" y1="83.31" x2="381.1" y2="116.04" stroke="#000" stroke-width="0.9" />
<line x1="378.35" y1="83.31" x2="383.85" y2="83.31" stroke="#000" stroke-width="0.9" />
<line x1="378.35" y1="116.04" x2="383.85" y2="116.04" stroke="#000" stroke-width="0.9" />
<line x1="429.82" y1="109.52" x2="429.82" y2="130.49" stroke="#000" stroke-width="0.9" />
<line x1="427.07" y1="109.52" x2="432.57" y2="109.52" stroke="#000" stroke-width="0.9" />
<line x1="427.07" y1="130.49" x2="432.57" y2="130.49" stroke="#000" stroke-width="0.9" />
<line x1="455.47" y1="125.83" x2="455.47" y2="143.31" stroke="#000" stroke-width="0.9" />
<line x1="452.72" y1="125.83" x2="458.22" y2="125.83" stroke="#000" stroke-width="0.9" />
<line x1="452.72" y1="143.31" x2="458.22" y2="143.31" stroke="#000" stroke-width="0.9" />
<line x1="481.19" y1="140.97" x2="481.19" y2="153.79" stroke="#000" stroke-width="0.9" />
<line x1="478.44" y1="140.97" x2="483.94" y2="140.97" stroke="#000" stroke-width="0.9" />
<line x1="478.44" y1="153.79" x2="483.94" y2="153.79" stroke="#000" stroke-width="0.9" />
<line x1="506.88" y1="156.12" x2="506.88" y2="171.26" stroke="#000" stroke-width="0.9" />
<line x1="504.13" y1="156.12" x2="509.63" y2="156.12" stroke="#000" stroke-width="0.9" />
<line x1="504.13" y1="171.26" x2="509.63" y2="171.26" stroke="#000" stroke-width="0.9" />
<line x1="532.5" y1="202.72" x2="532.5" y2="215.53" stroke="#000" stroke-width="0.9" />
<line x1="529.75" y1="202.72" x2="535.25" y2="202.72" stroke="#000" stroke-width="0.9" />
<line x1="529.75" y1="215.53" x2="535.25" y2="215.53" stroke="#000" stroke-width="0.9" />
<line x1="558.17" y1="202.72" x2="558.17" y2="208.54" stroke="#000" stroke-width="0.9" />
<line x1="555.42" y1="202.72" x2="560.92" y2="202.72" stroke="#000" stroke-width="0.9" />
<line x1="555.42" y1="208.54" x2="560.92" y2="208.54" stroke="#000" stroke-width="0.9" />
<line x1="583.84" y1="210.88" x2="583.84" y2="215.53" stroke="#000" stroke-width="0.9" />
<line x1="581.09" y1="210.88" x2="586.59" y2="210.88" stroke="#000" stroke-width="0.9" />
<line x1="581.09" y1="215.53" x2="586.59" y2="215.53" stroke="#000" stroke-width="0.9" />
<line x1="609.22" y1="210.88" x2="609.22" y2="215.53" stroke="#000" stroke-width="0.9" />
<line x1="606.47" y1="210.88" x2="611.97" y2="210.88" stroke="#000" stroke-width="0.9" />
<line x1="606.47" y1="215.53" x2="611.97" y2="215.53" stroke="#000" stroke-width="0.9" />
<line x1="634.89" y1="212.04" x2="634.89" y2="216.7" stroke="#000" stroke-width="0.9" />
<line x1="632.14" y1="212.04" x2="637.64" y2="212.04" stroke="#000" stroke-width="0.9" />
<line x1="632.14" y1="216.7" x2="637.64" y2="216.7" stroke="#000" stroke-width="0.9" />
<line x1="381.1" y1="88.55" x2="381.1" y2="110.8" stroke="#ff8205" stroke-width="0.9" />
<line x1="378.35" y1="88.55" x2="383.85" y2="88.55" stroke="#ff8205" stroke-width="0.9" />
<line x1="378.35" y1="110.8" x2="383.85" y2="110.8" stroke="#ff8205" stroke-width="0.9" />
<line x1="429.82" y1="102.53" x2="429.82" y2="116.51" stroke="#ff8205" stroke-width="0.9" />
<line x1="427.07" y1="102.53" x2="432.57" y2="102.53" stroke="#ff8205" stroke-width="0.9" />
<line x1="427.07" y1="116.51" x2="432.57" y2="116.51" stroke="#ff8205" stroke-width="0.9" />
<line x1="455.47" y1="104.86" x2="455.47" y2="123.5" stroke="#ff8205" stroke-width="0.9" />
<line x1="452.72" y1="104.86" x2="458.22" y2="104.86" stroke="#ff8205" stroke-width="0.9" />
<line x1="452.72" y1="123.5" x2="458.22" y2="123.5" stroke="#ff8205" stroke-width="0.9" />
<line x1="481.19" y1="143.31" x2="481.19" y2="158.45" stroke="#ff8205" stroke-width="0.9" />
<line x1="478.44" y1="143.31" x2="483.94" y2="143.31" stroke="#ff8205" stroke-width="0.9" />
<line x1="478.44" y1="158.45" x2="483.94" y2="158.45" stroke="#ff8205" stroke-width="0.9" />
<line x1="506.88" y1="172.43" x2="506.88" y2="191.07" stroke="#ff8205" stroke-width="0.9" />
<line x1="504.13" y1="172.43" x2="509.63" y2="172.43" stroke="#ff8205" stroke-width="0.9" />
<line x1="504.13" y1="191.07" x2="509.63" y2="191.07" stroke="#ff8205" stroke-width="0.9" />
<line x1="532.5" y1="210.88" x2="532.5" y2="215.53" stroke="#ff8205" stroke-width="0.9" />
<line x1="529.75" y1="210.88" x2="535.25" y2="210.88" stroke="#ff8205" stroke-width="0.9" />
<line x1="529.75" y1="215.53" x2="535.25" y2="215.53" stroke="#ff8205" stroke-width="0.9" />
<line x1="558.17" y1="213.2" x2="558.17" y2="215.53" stroke="#ff8205" stroke-width="0.9" />
<line x1="555.42" y1="213.2" x2="560.92" y2="213.2" stroke="#ff8205" stroke-width="0.9" />
<line x1="555.42" y1="215.53" x2="560.92" y2="215.53" stroke="#ff8205" stroke-width="0.9" />
<line x1="583.84" y1="214.37" x2="583.84" y2="216.7" stroke="#ff8205" stroke-width="0.9" />
<line x1="581.09" y1="214.37" x2="586.59" y2="214.37" stroke="#ff8205" stroke-width="0.9" />
<line x1="581.09" y1="216.7" x2="586.59" y2="216.7" stroke="#ff8205" stroke-width="0.9" />
<line x1="609.22" y1="214.37" x2="609.22" y2="216.7" stroke="#ff8205" stroke-width="0.9" />
<line x1="606.47" y1="214.37" x2="611.97" y2="214.37" stroke="#ff8205" stroke-width="0.9" />
<line x1="606.47" y1="216.7" x2="611.97" y2="216.7" stroke="#ff8205" stroke-width="0.9" />
<line x1="634.89" y1="214.37" x2="634.89" y2="216.7" stroke="#ff8205" stroke-width="0.9" />
<line x1="632.14" y1="214.37" x2="637.64" y2="214.37" stroke="#ff8205" stroke-width="0.9" />
<line x1="632.14" y1="216.7" x2="637.64" y2="216.7" stroke="#ff8205" stroke-width="0.9" />
<line x1="429.82" y1="90.88" x2="429.82" y2="102.53" stroke="#08bb08" stroke-width="0.9" />
<line x1="427.07" y1="90.88" x2="432.57" y2="90.88" stroke="#08bb08" stroke-width="0.9" />
<line x1="427.07" y1="102.53" x2="432.57" y2="102.53" stroke="#08bb08" stroke-width="0.9" />
<line x1="455.47" y1="109.52" x2="455.47" y2="128.16" stroke="#08bb08" stroke-width="0.9" />
<line x1="452.72" y1="109.52" x2="458.22" y2="109.52" stroke="#08bb08" stroke-width="0.9" />
<line x1="452.72" y1="128.16" x2="458.22" y2="128.16" stroke="#08bb08" stroke-width="0.9" />
<line x1="481.19" y1="153.79" x2="481.19" y2="177.44" stroke="#08bb08" stroke-width="0.9" />
<line x1="478.44" y1="153.79" x2="483.94" y2="153.79" stroke="#08bb08" stroke-width="0.9" />
<line x1="478.44" y1="177.44" x2="483.94" y2="177.44" stroke="#08bb08" stroke-width="0.9" />
<line x1="506.88" y1="198.06" x2="506.88" y2="210.88" stroke="#08bb08" stroke-width="0.9" />
<line x1="504.13" y1="198.06" x2="509.63" y2="198.06" stroke="#08bb08" stroke-width="0.9" />
<line x1="504.13" y1="210.88" x2="509.63" y2="210.88" stroke="#08bb08" stroke-width="0.9" />
<line x1="532.5" y1="197.36" x2="532.5" y2="215.53" stroke="#08bb08" stroke-width="0.9" />
<line x1="529.75" y1="197.36" x2="535.25" y2="197.36" stroke="#08bb08" stroke-width="0.9" />
<line x1="529.75" y1="215.53" x2="535.25" y2="215.53" stroke="#08bb08" stroke-width="0.9" />
<line x1="558.17" y1="210.88" x2="558.17" y2="215.53" stroke="#08bb08" stroke-width="0.9" />
<line x1="555.42" y1="210.88" x2="560.92" y2="210.88" stroke="#08bb08" stroke-width="0.9" />
<line x1="555.42" y1="215.53" x2="560.92" y2="215.53" stroke="#08bb08" stroke-width="0.9" />
<line x1="583.84" y1="212.04" x2="583.84" y2="215.53" stroke="#08bb08" stroke-width="0.9" />
<line x1="581.09" y1="212.04" x2="586.59" y2="212.04" stroke="#08bb08" stroke-width="0.9" />
<line x1="581.09" y1="215.53" x2="586.59" y2="215.53" stroke="#08bb08" stroke-width="0.9" />
<line x1="609.22" y1="212.04" x2="609.22" y2="215.53" stroke="#08bb08" stroke-width="0.9" />
<line x1="606.47" y1="212.04" x2="611.97" y2="212.04" stroke="#08bb08" stroke-width="0.9" />
<line x1="606.47" y1="215.53" x2="611.97" y2="215.53" stroke="#08bb08" stroke-width="0.9" />
<line x1="634.89" y1="212.04" x2="634.89" y2="215.53" stroke="#08bb08" stroke-width="0.9" />
<line x1="632.14" y1="212.04" x2="637.64" y2="212.04" stroke="#08bb08" stroke-width="0.9" />
<line x1="632.14" y1="215.53" x2="637.64" y2="215.53" stroke="#08bb08" stroke-width="0.9" />
<line x1="429.82" y1="87.38" x2="429.82" y2="106.02" stroke="#000" stroke-width="0.9" />
<line x1="427.07" y1="87.38" x2="432.57" y2="87.38" stroke="#000" stroke-width="0.9" />
<line x1="427.07" y1="106.02" x2="432.57" y2="106.02" stroke="#000" stroke-width="0.9" />
<line x1="455.47" y1="109.52" x2="455.47" y2="117.67" stroke="#000" stroke-width="0.9" />
<line x1="452.72" y1="109.52" x2="458.22" y2="109.52" stroke="#000" stroke-width="0.9" />
<line x1="452.72" y1="117.67" x2="458.22" y2="117.67" stroke="#000" stroke-width="0.9" />
<line x1="481.19" y1="102.53" x2="481.19" y2="116.51" stroke="#000" stroke-width="0.9" />
<line x1="478.44" y1="102.53" x2="483.94" y2="102.53" stroke="#000" stroke-width="0.9" />
<line x1="478.44" y1="116.51" x2="483.94" y2="116.51" stroke="#000" stroke-width="0.9" />
<line x1="506.88" y1="165.44" x2="506.88" y2="179.42" stroke="#000" stroke-width="0.9" />
<line x1="504.13" y1="165.44" x2="509.63" y2="165.44" stroke="#000" stroke-width="0.9" />
<line x1="504.13" y1="179.42" x2="509.63" y2="179.42" stroke="#000" stroke-width="0.9" />
<line x1="532.5" y1="209.71" x2="532.5" y2="215.53" stroke="#000" stroke-width="0.9" />
<line x1="529.75" y1="209.71" x2="535.25" y2="209.71" stroke="#000" stroke-width="0.9" />
<line x1="529.75" y1="215.53" x2="535.25" y2="215.53" stroke="#000" stroke-width="0.9" />
<line x1="558.17" y1="212.04" x2="558.17" y2="216.7" stroke="#000" stroke-width="0.9" />
<line x1="555.42" y1="212.04" x2="560.92" y2="212.04" stroke="#000" stroke-width="0.9" />
<line x1="555.42" y1="216.7" x2="560.92" y2="216.7" stroke="#000" stroke-width="0.9" />
<line x1="583.84" y1="213.2" x2="583.84" y2="215.53" stroke="#000" stroke-width="0.9" />
<line x1="581.09" y1="213.2" x2="586.59" y2="213.2" stroke="#000" stroke-width="0.9" />
<line x1="581.09" y1="215.53" x2="586.59" y2="215.53" stroke="#000" stroke-width="0.9" />
<line x1="609.22" y1="213.2" x2="609.22" y2="215.53" stroke="#000" stroke-width="0.9" />
<line x1="606.47" y1="213.2" x2="611.97" y2="213.2" stroke="#000" stroke-width="0.9" />
<line x1="606.47" y1="215.53" x2="611.97" y2="215.53" stroke="#000" stroke-width="0.9" />
<line x1="634.89" y1="213.2" x2="634.89" y2="215.53" stroke="#000" stroke-width="0.9" />
<line x1="632.14" y1="213.2" x2="637.64" y2="213.2" stroke="#000" stroke-width="0.9" />
<line x1="632.14" y1="215.53" x2="637.64" y2="215.53" stroke="#000" stroke-width="0.9" />
<line x1="429.82" y1="102.53" x2="429.82" y2="123.27" stroke="#ff0000" stroke-width="0.9" />
<line x1="427.07" y1="102.53" x2="432.57" y2="102.53" stroke="#ff0000" stroke-width="0.9" />
<line x1="427.07" y1="123.27" x2="432.57" y2="123.27" stroke="#ff0000" stroke-width="0.9" />
<line x1="455.47" y1="103.46" x2="455.47" y2="123.15" stroke="#ff0000" stroke-width="0.9" />
<line x1="452.72" y1="103.46" x2="458.22" y2="103.46" stroke="#ff0000" stroke-width="0.9" />
<line x1="452.72" y1="123.15" x2="458.22" y2="123.15" stroke="#ff0000" stroke-width="0.9" />
<line x1="481.19" y1="109.52" x2="481.19" y2="132.24" stroke="#ff0000" stroke-width="0.9" />
<line x1="478.44" y1="109.52" x2="483.94" y2="109.52" stroke="#ff0000" stroke-width="0.9" />
<line x1="478.44" y1="132.24" x2="483.94" y2="132.24" stroke="#ff0000" stroke-width="0.9" />
<line x1="506.88" y1="135.73" x2="506.88" y2="170.1" stroke="#ff0000" stroke-width="0.9" />
<line x1="504.13" y1="135.73" x2="509.63" y2="135.73" stroke="#ff0000" stroke-width="0.9" />
<line x1="504.13" y1="170.1" x2="509.63" y2="170.1" stroke="#ff0000" stroke-width="0.9" />
<line x1="532.5" y1="207.38" x2="532.5" y2="216.7" stroke="#ff0000" stroke-width="0.9" />
<line x1="529.75" y1="207.38" x2="535.25" y2="207.38" stroke="#ff0000" stroke-width="0.9" />
<line x1="529.75" y1="216.7" x2="535.25" y2="216.7" stroke="#ff0000" stroke-width="0.9" />
<line x1="558.17" y1="214.37" x2="558.17" y2="216.7" stroke="#ff0000" stroke-width="0.9" />
<line x1="555.42" y1="214.37" x2="560.92" y2="214.37" stroke="#ff0000" stroke-width="0.9" />
<line x1="555.42" y1="216.7" x2="560.92" y2="216.7" stroke="#ff0000" stroke-width="0.9" />
<line x1="583.84" y1="215.53" x2="583.84" y2="216.7" stroke="#ff0000" stroke-width="0.9" />
<line x1="581.09" y1="215.53" x2="586.59" y2="215.53" stroke="#ff0000" stroke-width="0.9" />
<line x1="581.09" y1="216.7" x2="586.59" y2="216.7" stroke="#ff0000" stroke-width="0.9" />
<line x1="609.22" y1="215.53" x2="609.22" y2="216.7" stroke="#ff0000" stroke-width="0.9" />
<line x1="606.47" y1="215.53" x2="611.97" y2="215.53" stroke="#ff0000" stroke-width="0.9" />
<line x1="606.47" y1="216.7" x2="611.97" y2="216.7" stroke="#ff0000" stroke-width="0.9" />
<line x1="634.89" y1="215.53" x2="634.89" y2="216.7" stroke="#ff0000" stroke-width="0.9" />
<line x1="632.14" y1="215.53" x2="637.64" y2="215.53" stroke="#ff0000" stroke-width="0.9" />
<line x1="632.14" y1="216.7" x2="637.64" y2="216.7" stroke="#ff0000" stroke-width="0.9" />
<line x1="381.1" y1="89.37" x2="381.1" y2="109.64" stroke="#0000ff" stroke-width="0.9" />
<line x1="378.35" y1="89.37" x2="383.85" y2="89.37" stroke="#0000ff" stroke-width="0.9" />
<line x1="378.35" y1="109.64" x2="383.85" y2="109.64" stroke="#0000ff" stroke-width="0.9" />
<line x1="429.82" y1="102.53" x2="429.82" y2="129.32" stroke="#0000ff" stroke-width="0.9" />
<line x1="427.07" y1="102.53" x2="432.57" y2="102.53" stroke="#0000ff" stroke-width="0.9" />
<line x1="427.07" y1="129.32" x2="432.57" y2="129.32" stroke="#0000ff" stroke-width="0.9" />
<line x1="455.47" y1="105.44" x2="455.47" y2="164.86" stroke="#0000ff" stroke-width="0.9" />
<line x1="452.72" y1="105.44" x2="458.22" y2="105.44" stroke="#0000ff" stroke-width="0.9" />
<line x1="452.72" y1="164.86" x2="458.22" y2="164.86" stroke="#0000ff" stroke-width="0.9" />
<line x1="481.19" y1="200.39" x2="481.19" y2="210.88" stroke="#0000ff" stroke-width="0.9" />
<line x1="478.44" y1="200.39" x2="483.94" y2="200.39" stroke="#0000ff" stroke-width="0.9" />
<line x1="478.44" y1="210.88" x2="483.94" y2="210.88" stroke="#0000ff" stroke-width="0.9" />
<line x1="506.88" y1="201.55" x2="506.88" y2="214.37" stroke="#0000ff" stroke-width="0.9" />
<line x1="504.13" y1="201.55" x2="509.63" y2="201.55" stroke="#0000ff" stroke-width="0.9" />
<line x1="504.13" y1="214.37" x2="509.63" y2="214.37" stroke="#0000ff" stroke-width="0.9" />
<line x1="532.5" y1="200.97" x2="532.5" y2="215.53" stroke="#0000ff" stroke-width="0.9" />
<line x1="529.75" y1="200.97" x2="535.25" y2="200.97" stroke="#0000ff" stroke-width="0.9" />
<line x1="529.75" y1="215.53" x2="535.25" y2="215.53" stroke="#0000ff" stroke-width="0.9" />
<line x1="558.17" y1="209.71" x2="558.17" y2="213.2" stroke="#0000ff" stroke-width="0.9" />
<line x1="555.42" y1="209.71" x2="560.92" y2="209.71" stroke="#0000ff" stroke-width="0.9" />
<line x1="555.42" y1="213.2" x2="560.92" y2="213.2" stroke="#0000ff" stroke-width="0.9" />
<line x1="583.84" y1="213.2" x2="583.84" y2="214.95" stroke="#0000ff" stroke-width="0.9" />
<line x1="581.09" y1="213.2" x2="586.59" y2="213.2" stroke="#0000ff" stroke-width="0.9" />
<line x1="581.09" y1="214.95" x2="586.59" y2="214.95" stroke="#0000ff" stroke-width="0.9" />
<line x1="609.22" y1="213.2" x2="609.22" y2="214.95" stroke="#0000ff" stroke-width="0.9" />
<line x1="606.47" y1="213.2" x2="611.97" y2="213.2" stroke="#0000ff" stroke-width="0.9" />
<line x1="606.47" y1="214.95" x2="611.97" y2="214.95" stroke="#0000ff" stroke-width="0.9" />
<line x1="634.89" y1="213.2" x2="634.89" y2="214.95" stroke="#0000ff" stroke-width="0.9" />
<line x1="632.14" y1="213.2" x2="637.64" y2="213.2" stroke="#0000ff" stroke-width="0.9" />
<line x1="632.14" y1="214.95" x2="637.64" y2="214.95" stroke="#0000ff" stroke-width="0.9" />
<rect x="378.2" y="97.3" width="5.8" height="5.8" fill="none" stroke="#9c6a26" stroke-width="1.2"/>
<rect x="400.9" y="95.55" width="5.8" height="5.8" fill="none" stroke="#9c6a26" stroke-width="1.2"/>
<rect x="426.92" y="94.39" width="5.8" height="5.8" fill="none" stroke="#9c6a26" stroke-width="1.2"/>
<rect x="452.57" y="102.66" width="5.8" height="5.8" fill="none" stroke="#9c6a26" stroke-width="1.2"/>
<rect x="478.29" y="94.97" width="5.8" height="5.8" fill="none" stroke="#9c6a26" stroke-width="1.2"/>
<rect x="503.98" y="108.13" width="5.8" height="5.8" fill="none" stroke="#9c6a26" stroke-width="1.2"/>
<rect x="529.6" y="155.08" width="5.8" height="5.8" fill="none" stroke="#9c6a26" stroke-width="1.2"/>
<rect x="555.27" y="178.15" width="5.8" height="5.8" fill="none" stroke="#9c6a26" stroke-width="1.2"/>
<rect x="580.94" y="207.97" width="5.8" height="5.8" fill="none" stroke="#9c6a26" stroke-width="1.2"/>
<rect x="606.32" y="209.14" width="5.8" height="5.8" fill="none" stroke="#9c6a26" stroke-width="1.2"/>
<circle cx="381.1" cy="100.2" r="2.6" fill="none" stroke="#000" stroke-width="1.2"/>
<circle cx="429.82" cy="119.77" r="2.6" fill="none" stroke="#000" stroke-width="1.2"/>
<circle cx="455.47" cy="131.65" r="2.6" fill="none" stroke="#000" stroke-width="1.2"/>
<circle cx="481.19" cy="147.38" r="2.6" fill="none" stroke="#000" stroke-width="1.2"/>
<circle cx="506.88" cy="163.58" r="2.6" fill="none" stroke="#000" stroke-width="1.2"/>
<circle cx="532.5" cy="210.88" r="2.6" fill="none" stroke="#000" stroke-width="1.2"/>
<circle cx="558.17" cy="205.87" r="2.6" fill="none" stroke="#000" stroke-width="1.2"/>
<circle cx="583.84" cy="213.2" r="2.6" fill="none" stroke="#000" stroke-width="1.2"/>
<circle cx="609.22" cy="213.2" r="2.6" fill="none" stroke="#000" stroke-width="1.2"/>
<circle cx="634.89" cy="214.37" r="2.6" fill="none" stroke="#000" stroke-width="1.2"/>
<path d="M381.1 97.56L383.74 100.2L381.1 102.84L378.46 100.2Z" fill="#ff8205"/>
<path d="M429.82 106.88L432.46 109.52L429.82 112.16L427.18 109.52Z" fill="#ff8205"/>
<path d="M455.47 111.54L458.11 114.18L455.47 116.82L452.83 114.18Z" fill="#ff8205"/>
<path d="M481.19 146.14L483.83 148.78L481.19 151.42L478.55 148.78Z" fill="#ff8205"/>
<path d="M506.88 178.18L509.52 180.82L506.88 183.46L504.24 180.82Z" fill="#ff8205"/>
<path d="M532.5 210.56L535.14 213.2L532.5 215.84L529.86 213.2Z" fill="#ff8205"/>
<path d="M558.17 211.73L560.81 214.37L558.17 217.01L555.53 214.37Z" fill="#ff8205"/>
<path d="M583.84 212.9L586.48 215.53L583.84 218.17L581.2 215.53Z" fill="#ff8205"/>
<path d="M609.22 212.9L611.86 215.53L609.22 218.17L606.58 215.53Z" fill="#ff8205"/>
<path d="M634.89 212.9L637.53 215.53L634.89 218.17L632.25 215.53Z" fill="#ff8205"/>
<path d="M381.1 97L384.3 102.76L377.9 102.76Z" fill="#08bb08"/>
<path d="M429.82 93.5L433.02 99.26L426.62 99.26Z" fill="#08bb08"/>
<path d="M455.47 115.41L458.67 121.17L452.27 121.17Z" fill="#08bb08"/>
<path d="M481.19 162.12L484.39 167.88L477.99 167.88Z" fill="#08bb08"/>
<path d="M506.88 201.15L510.08 206.91L503.68 206.91Z" fill="#08bb08"/>
<path d="M532.5 207.68L535.7 213.44L529.3 213.44Z" fill="#08bb08"/>
<path d="M558.17 210L561.37 215.76L554.97 215.76Z" fill="#08bb08"/>
<path d="M583.84 210.59L587.04 216.35L580.64 216.35Z" fill="#08bb08"/>
<path d="M609.22 210.59L612.42 216.35L606.02 216.35Z" fill="#08bb08"/>
<path d="M634.89 210.59L638.09 216.35L631.69 216.35Z" fill="#08bb08"/>
<path d="M381.1 103.4L384.3 97.64L377.9 97.64Z" fill="#000"/>
<path d="M429.82 99.9L433.02 94.14L426.62 94.14Z" fill="#000"/>
<path d="M455.47 116.68L458.67 110.92L452.27 110.92Z" fill="#000"/>
<path d="M481.19 112.37L484.39 106.61L477.99 106.61Z" fill="#000"/>
<path d="M506.88 175.16L510.08 169.4L503.68 169.4Z" fill="#000"/>
<path d="M532.5 216.4L535.7 210.64L529.3 210.64Z" fill="#000"/>
<path d="M558.17 217.57L561.37 211.81L554.97 211.81Z" fill="#000"/>
<path d="M583.84 217.57L587.04 211.81L580.64 211.81Z" fill="#000"/>
<path d="M609.22 217.57L612.42 211.81L606.02 211.81Z" fill="#000"/>
<path d="M634.89 217.57L638.09 211.81L631.69 211.81Z" fill="#000"/>
<rect x="378.3" y="97.4" width="5.6" height="5.6" fill="#ff0000" />
<rect x="427.02" y="108" width="5.6" height="5.6" fill="#ff0000" />
<rect x="452.67" y="110.68" width="5.6" height="5.6" fill="#ff0000" />
<rect x="478.39" y="114.99" width="5.6" height="5.6" fill="#ff0000" />
<rect x="504.08" y="150.29" width="5.6" height="5.6" fill="#ff0000" />
<rect x="529.7" y="210.4" width="5.6" height="5.6" fill="#ff0000" />
<rect x="555.37" y="212.73" width="5.6" height="5.6" fill="#ff0000" />
<rect x="581.04" y="213.32" width="5.6" height="5.6" fill="#ff0000" />
<rect x="606.42" y="213.32" width="5.6" height="5.6" fill="#ff0000" />
<rect x="632.09" y="213.32" width="5.6" height="5.6" fill="#ff0000" />
<circle cx="381.1" cy="100.2" r="2.9" fill="#0000ff"/>
<circle cx="429.82" cy="116.04" r="2.9" fill="#0000ff"/>
<circle cx="455.47" cy="136.66" r="2.9" fill="#0000ff"/>
<circle cx="481.19" cy="205.63" r="2.9" fill="#0000ff"/>
<circle cx="506.88" cy="208.08" r="2.9" fill="#0000ff"/>
<circle cx="532.5" cy="210.06" r="2.9" fill="#0000ff"/>
<circle cx="558.17" cy="211.57" r="2.9" fill="#0000ff"/>
<circle cx="583.84" cy="214.14" r="2.9" fill="#0000ff"/>
<circle cx="609.22" cy="214.14" r="2.9" fill="#0000ff"/>
<circle cx="634.89" cy="214.14" r="2.9" fill="#0000ff"/>
<line x1="376.2" y1="41.45" x2="376.2" y2="217.5" stroke="#000" stroke-width="1.7" />
<text x="370" y="220.6" font-size="10.8" font-weight="bold" text-anchor="end" fill="#000" >0</text>
<line x1="372" y1="187.57" x2="376.2" y2="187.57" stroke="#000" stroke-width="1.5" />
<text x="370" y="191.47" font-size="10.8" font-weight="bold" text-anchor="end" fill="#000" >25</text>
<line x1="372" y1="158.45" x2="376.2" y2="158.45" stroke="#000" stroke-width="1.5" />
<text x="370" y="162.35" font-size="10.8" font-weight="bold" text-anchor="end" fill="#000" >50</text>
<line x1="372" y1="129.32" x2="376.2" y2="129.32" stroke="#000" stroke-width="1.5" />
<text x="370" y="133.22" font-size="10.8" font-weight="bold" text-anchor="end" fill="#000" >75</text>
<line x1="372" y1="100.2" x2="376.2" y2="100.2" stroke="#000" stroke-width="1.5" />
<text x="370" y="104.1" font-size="10.8" font-weight="bold" text-anchor="end" fill="#000" >100</text>
<line x1="372" y1="71.07" x2="376.2" y2="71.07" stroke="#000" stroke-width="1.5" />
<text x="370" y="74.97" font-size="10.8" font-weight="bold" text-anchor="end" fill="#000" >125</text>
<line x1="372" y1="41.95" x2="376.2" y2="41.95" stroke="#000" stroke-width="1.5" />
<text x="370" y="45.85" font-size="10.8" font-weight="bold" text-anchor="end" fill="#000" >150</text>
<line x1="375.4" y1="216.7" x2="391.6" y2="216.7" stroke="#000" stroke-width="1.7" />
<line x1="396.8" y1="216.7" x2="656.5" y2="216.7" stroke="#000" stroke-width="1.7" />
<line x1="396.8" y1="214.3" x2="396.8" y2="219.1" stroke="#000" stroke-width="1.7" />
<circle cx="394" cy="216.7" r="0.6" fill="#000"/>
<line x1="403.5" y1="216.7" x2="403.5" y2="219.2" stroke="#000" stroke-width="1.1" />
<line x1="412.97" y1="216.7" x2="412.97" y2="219.2" stroke="#000" stroke-width="1.1" />
<line x1="419.69" y1="216.7" x2="419.69" y2="219.2" stroke="#000" stroke-width="1.1" />
<line x1="424.9" y1="216.7" x2="424.9" y2="219.2" stroke="#000" stroke-width="1.1" />
<line x1="429.16" y1="216.7" x2="429.16" y2="219.2" stroke="#000" stroke-width="1.1" />
<line x1="432.77" y1="216.7" x2="432.77" y2="219.2" stroke="#000" stroke-width="1.1" />
<line x1="435.89" y1="216.7" x2="435.89" y2="219.2" stroke="#000" stroke-width="1.1" />
<line x1="438.64" y1="216.7" x2="438.64" y2="219.2" stroke="#000" stroke-width="1.1" />
<line x1="441.1" y1="216.7" x2="441.1" y2="220.7" stroke="#000" stroke-width="1.3" />
<line x1="457.3" y1="216.7" x2="457.3" y2="219.2" stroke="#000" stroke-width="1.1" />
<line x1="466.77" y1="216.7" x2="466.77" y2="219.2" stroke="#000" stroke-width="1.1" />
<line x1="473.49" y1="216.7" x2="473.49" y2="219.2" stroke="#000" stroke-width="1.1" />
<line x1="478.7" y1="216.7" x2="478.7" y2="219.2" stroke="#000" stroke-width="1.1" />
<line x1="482.96" y1="216.7" x2="482.96" y2="219.2" stroke="#000" stroke-width="1.1" />
<line x1="486.57" y1="216.7" x2="486.57" y2="219.2" stroke="#000" stroke-width="1.1" />
<line x1="489.69" y1="216.7" x2="489.69" y2="219.2" stroke="#000" stroke-width="1.1" />
<line x1="492.44" y1="216.7" x2="492.44" y2="219.2" stroke="#000" stroke-width="1.1" />
<line x1="494.9" y1="216.7" x2="494.9" y2="220.7" stroke="#000" stroke-width="1.3" />
<line x1="511.1" y1="216.7" x2="511.1" y2="219.2" stroke="#000" stroke-width="1.1" />
<line x1="520.57" y1="216.7" x2="520.57" y2="219.2" stroke="#000" stroke-width="1.1" />
<line x1="527.29" y1="216.7" x2="527.29" y2="219.2" stroke="#000" stroke-width="1.1" />
<line x1="532.5" y1="216.7" x2="532.5" y2="219.2" stroke="#000" stroke-width="1.1" />
<line x1="536.76" y1="216.7" x2="536.76" y2="219.2" stroke="#000" stroke-width="1.1" />
<line x1="540.37" y1="216.7" x2="540.37" y2="219.2" stroke="#000" stroke-width="1.1" />
<line x1="543.49" y1="216.7" x2="543.49" y2="219.2" stroke="#000" stroke-width="1.1" />
<line x1="546.24" y1="216.7" x2="546.24" y2="219.2" stroke="#000" stroke-width="1.1" />
<line x1="548.7" y1="216.7" x2="548.7" y2="220.7" stroke="#000" stroke-width="1.3" />
<line x1="564.9" y1="216.7" x2="564.9" y2="219.2" stroke="#000" stroke-width="1.1" />
<line x1="574.37" y1="216.7" x2="574.37" y2="219.2" stroke="#000" stroke-width="1.1" />
<line x1="581.09" y1="216.7" x2="581.09" y2="219.2" stroke="#000" stroke-width="1.1" />
<line x1="586.3" y1="216.7" x2="586.3" y2="219.2" stroke="#000" stroke-width="1.1" />
<line x1="590.56" y1="216.7" x2="590.56" y2="219.2" stroke="#000" stroke-width="1.1" />
<line x1="594.17" y1="216.7" x2="594.17" y2="219.2" stroke="#000" stroke-width="1.1" />
<line x1="597.29" y1="216.7" x2="597.29" y2="219.2" stroke="#000" stroke-width="1.1" />
<line x1="600.04" y1="216.7" x2="600.04" y2="219.2" stroke="#000" stroke-width="1.1" />
<line x1="602.5" y1="216.7" x2="602.5" y2="220.7" stroke="#000" stroke-width="1.3" />
<line x1="618.7" y1="216.7" x2="618.7" y2="219.2" stroke="#000" stroke-width="1.1" />
<line x1="628.17" y1="216.7" x2="628.17" y2="219.2" stroke="#000" stroke-width="1.1" />
<line x1="634.89" y1="216.7" x2="634.89" y2="219.2" stroke="#000" stroke-width="1.1" />
<line x1="640.1" y1="216.7" x2="640.1" y2="219.2" stroke="#000" stroke-width="1.1" />
<line x1="644.36" y1="216.7" x2="644.36" y2="219.2" stroke="#000" stroke-width="1.1" />
<line x1="647.97" y1="216.7" x2="647.97" y2="219.2" stroke="#000" stroke-width="1.1" />
<line x1="651.09" y1="216.7" x2="651.09" y2="219.2" stroke="#000" stroke-width="1.1" />
<line x1="653.84" y1="216.7" x2="653.84" y2="219.2" stroke="#000" stroke-width="1.1" />
<line x1="656.3" y1="216.7" x2="656.3" y2="220.7" stroke="#000" stroke-width="1.3" />
<text x="381" y="230.3" font-size="10.8" font-weight="bold" text-anchor="middle" fill="#000" >0</text>
<text x="441.1" y="233.3" font-size="10.8" font-weight="bold" text-anchor="middle" fill="#000" >0.01</text>
<text x="494.9" y="233.3" font-size="10.8" font-weight="bold" text-anchor="middle" fill="#000" >0.1</text>
<text x="548.7" y="233.3" font-size="10.8" font-weight="bold" text-anchor="middle" fill="#000" >1</text>
<text x="602.5" y="233.3" font-size="10.8" font-weight="bold" text-anchor="middle" fill="#000" >10</text>
<text x="656.3" y="233.3" font-size="10.8" font-weight="bold" text-anchor="middle" fill="#000" >100</text>
<text x="516.65" y="245.6" font-size="11.5" font-weight="bold" text-anchor="middle" fill="#000" >Concentration (µM)</text>
<line x1="520" y1="19.4" x2="530.6" y2="19.4" stroke="#0000ff" stroke-width="1.4" />
<circle cx="525.3" cy="19.4" r="2.75" fill="#0000ff"/>
<text x="536" y="23.4" font-size="11.4" font-weight="normal" text-anchor="start" fill="#1a1a1a" >Milbemectin</text>
<text x="605.8" y="23.5" font-size="11.55" font-weight="normal" text-anchor="start" fill="#1a1a1a" >0.023 ± 0.003</text>
<line x1="520" y1="34.3" x2="530.6" y2="34.3" stroke="#ff0000" stroke-width="1.4" />
<rect x="522.78" y="31.78" width="5.04" height="5.04" fill="#ff0000" />
<text x="536" y="38.3" font-size="11.4" font-weight="normal" text-anchor="start" fill="#1a1a1a" >Moxidectin</text>
<text x="605.8" y="38.4" font-size="11.55" font-weight="normal" text-anchor="start" fill="#1a1a1a" >0.128 ± 0.045</text>
<line x1="520" y1="49.2" x2="530.6" y2="49.2" stroke="#08bb08" stroke-width="1.4" />
<path d="M525.3 46.32L528.18 51.5L522.42 51.5Z" fill="#08bb08"/>
<text x="536" y="53.2" font-size="11.4" font-weight="normal" text-anchor="start" fill="#1a1a1a" >Doramectin</text>
<text x="605.8" y="53.3" font-size="11.55" font-weight="normal" text-anchor="start" fill="#1a1a1a" >0.045 ± 0.007</text>
<line x1="520" y1="64.1" x2="530.6" y2="64.1" stroke="#000" stroke-width="1.4" />
<path d="M525.3 66.98L528.18 61.8L522.42 61.8Z" fill="#000"/>
<text x="536" y="68.1" font-size="11.4" font-weight="normal" text-anchor="start" fill="#1a1a1a" >Ivermectin</text>
<text x="605.8" y="68.2" font-size="11.55" font-weight="normal" text-anchor="start" fill="#1a1a1a" >0.130 ± 0.051</text>
<line x1="520" y1="79" x2="530.6" y2="79" stroke="#ff8205" stroke-width="1.4" />
<path d="M525.3 76.58L527.72 79L525.3 81.42L522.88 79Z" fill="#ff8205"/>
<text x="536" y="83" font-size="11.4" font-weight="normal" text-anchor="start" fill="#1a1a1a" >Abamectin</text>
<text x="605.8" y="83.1" font-size="11.55" font-weight="normal" text-anchor="start" fill="#1a1a1a" >0.094 ± 0.070</text>
<line x1="520" y1="93.9" x2="530.6" y2="93.9" stroke="#000" stroke-width="1.4" />
<circle cx="525.3" cy="93.9" r="2.6" fill="none" stroke="#000" stroke-width="1.2"/>
<text x="536" y="97.9" font-size="11.4" font-weight="normal" text-anchor="start" fill="#1a1a1a" >Eprinomectin</text>
<text x="605.8" y="98" font-size="11.55" font-weight="normal" text-anchor="start" fill="#1a1a1a" >0.105 ± 0.716</text>
<line x1="520" y1="108.8" x2="530.6" y2="108.8" stroke="#9c6a26" stroke-width="1.4" />
<rect x="522.54" y="106.05" width="5.51" height="5.51" fill="none" stroke="#9c6a26" stroke-width="1.2"/>
<text x="536" y="112.8" font-size="11.4" font-weight="normal" text-anchor="start" fill="#1a1a1a" >Selamectin</text>
<text x="605.8" y="112.9" font-size="11.55" font-weight="normal" text-anchor="start" fill="#1a1a1a" >0.722 ± 0.555</text>
<text x="641.2" y="8.3" font-size="11.4" font-weight="bold" text-anchor="middle" fill="#000" >EC50 (µM)</text>
<line x1="598" y1="11.7" x2="685" y2="11.7" stroke="#000" stroke-width="1.3" />
<text x="6.3" y="308.6" font-size="14.5" font-weight="bold" text-anchor="start" fill="#000" >C</text>
<text transform="translate(8.6,410.6) rotate(-90)" font-size="11.2" font-weight="bold" text-anchor="middle">Motility relative to DMSO (%)</text>
<path d="M58.6 393.17L60.07 393.17L61.54 393.17L63.01 393.17L64.48 393.17L65.95 393.17L67.42 393.17L68.89 393.17L70.36 393.17L71.83 393.17L73.3 393.17L74.77 393.17L76.23 393.17L77.7 393.17L79.17 393.17L80.64 393.17L82.11 393.17L83.58 393.17L85.05 393.17L86.52 393.17L87.99 393.17L89.46 393.17L90.93 393.17L92.4 393.17L93.87 393.17L95.34 393.17L96.81 393.17L98.28 393.17L99.75 393.17L101.22 393.18L102.69 393.18L104.16 393.18L105.63 393.18L107.1 393.18L108.57 393.18L110.03 393.19L111.5 393.19L112.97 393.19L114.44 393.19L115.91 393.2L117.38 393.2L118.85 393.21L120.32 393.21L121.79 393.22L123.26 393.22L124.73 393.23L126.2 393.24L127.67 393.25L129.14 393.26L130.61 393.27L132.08 393.29L133.55 393.31L135.02 393.33L136.49 393.35L137.96 393.37L139.43 393.4L140.9 393.43L142.36 393.47L143.83 393.51L145.3 393.56L146.77 393.61L148.24 393.67L149.71 393.74L151.18 393.82L152.65 393.91L154.12 394.02L155.59 394.13L157.06 394.26L158.53 394.42L160 394.59L161.47 394.78L162.94 395L164.41 395.25L165.88 395.53L167.35 395.85L168.82 396.21L170.29 396.62L171.76 397.08L173.23 397.6L174.7 398.18L176.16 398.84L177.63 399.58L179.1 400.4L180.57 401.33L182.04 402.36L183.51 403.51L184.98 404.79L186.45 406.2L187.92 407.76L189.39 409.47L190.86 411.35L192.33 413.39L193.8 415.6L195.27 417.98L196.74 420.53L198.21 423.25L199.68 426.13L201.15 429.15L202.62 432.31L204.09 435.57L205.56 438.92L207.03 442.33L208.5 445.77L209.96 449.22L211.43 452.65L212.9 456.02L214.37 459.32L215.84 462.51L217.31 465.58L218.78 468.51L220.25 471.29L221.72 473.9L223.19 476.35L224.66 478.62L226.13 480.72L227.6 482.65L229.07 484.42L230.54 486.03L232.01 487.49L233.48 488.82L234.95 490.01L236.42 491.09L237.89 492.05L239.36 492.91L240.83 493.68L242.29 494.36L243.76 494.97L245.23 495.51L246.7 495.99L248.17 496.42L249.64 496.8L251.11 497.13L252.58 497.42L254.05 497.68L255.52 497.91L256.99 498.12L258.46 498.29L259.93 498.45L261.4 498.59L262.87 498.71L264.34 498.82L265.81 498.91L267.28 499L268.75 499.07L270.22 499.13L271.69 499.19L273.16 499.24L274.63 499.28L276.09 499.32L277.56 499.36L279.03 499.39L280.5 499.41L281.97 499.43L283.44 499.45L284.91 499.47L286.38 499.49L287.85 499.5L289.32 499.51L290.79 499.52L292.26 499.53L293.73 499.54" fill="none" stroke="#ffa24a" stroke-width="1.5"/>
<line x1="43.3" y1="393.16" x2="52.3" y2="393.16" stroke="#ffa24a" stroke-width="1.5" />
<path d="M58.6 384.4L60.07 384.4L61.54 384.4L63.01 384.4L64.48 384.4L65.95 384.4L67.42 384.4L68.89 384.4L70.36 384.4L71.83 384.4L73.3 384.4L74.77 384.4L76.23 384.4L77.7 384.4L79.17 384.4L80.64 384.4L82.11 384.4L83.58 384.4L85.05 384.4L86.52 384.4L87.99 384.4L89.46 384.4L90.93 384.4L92.4 384.4L93.87 384.4L95.34 384.4L96.81 384.4L98.28 384.41L99.75 384.41L101.22 384.41L102.69 384.41L104.16 384.41L105.63 384.41L107.1 384.41L108.57 384.42L110.03 384.42L111.5 384.42L112.97 384.42L114.44 384.43L115.91 384.43L117.38 384.43L118.85 384.44L120.32 384.44L121.79 384.45L123.26 384.45L124.73 384.46L126.2 384.47L127.67 384.48L129.14 384.49L130.61 384.5L132.08 384.51L133.55 384.52L135.02 384.54L136.49 384.55L137.96 384.57L139.43 384.59L140.9 384.62L142.36 384.64L143.83 384.67L145.3 384.7L146.77 384.74L148.24 384.78L149.71 384.83L151.18 384.88L152.65 384.94L154.12 385L155.59 385.07L157.06 385.16L158.53 385.25L160 385.35L161.47 385.46L162.94 385.59L164.41 385.73L165.88 385.89L167.35 386.07L168.82 386.26L170.29 386.48L171.76 386.73L173.23 387.01L174.7 387.31L176.16 387.65L177.63 388.03L179.1 388.46L180.57 388.93L182.04 389.45L183.51 390.03L184.98 390.67L186.45 391.38L187.92 392.17L189.39 393.03L190.86 393.99L192.33 395.04L193.8 396.19L195.27 397.45L196.74 398.83L198.21 400.33L199.68 401.95L201.15 403.72L202.62 405.62L204.09 407.66L205.56 409.84L207.03 412.17L208.5 414.64L209.96 417.25L211.43 419.99L212.9 422.85L214.37 425.82L215.84 428.88L217.31 432.03L218.78 435.24L220.25 438.49L221.72 441.76L223.19 445.04L224.66 448.3L226.13 451.51L227.6 454.67L229.07 457.75L230.54 460.73L232.01 463.61L233.48 466.36L234.95 468.99L236.42 471.48L237.89 473.83L239.36 476.04L240.83 478.1L242.29 480.02L243.76 481.8L245.23 483.45L246.7 484.96L248.17 486.36L249.64 487.64L251.11 488.8L252.58 489.87L254.05 490.83L255.52 491.71L256.99 492.51L258.46 493.23L259.93 493.88L261.4 494.47L262.87 495L264.34 495.48L265.81 495.91L267.28 496.29L268.75 496.64L270.22 496.95L271.69 497.23L273.16 497.48L274.63 497.7L276.09 497.91L277.56 498.09L279.03 498.25L280.5 498.39L281.97 498.52L283.44 498.63L284.91 498.74L286.38 498.83L287.85 498.91L289.32 498.99L290.79 499.05L292.26 499.11L293.73 499.16" fill="none" stroke="#000" stroke-width="1.5"/>
<line x1="43.3" y1="384.36" x2="52.3" y2="384.36" stroke="#000" stroke-width="1.5" />
<path d="M58.6 382.75L60.07 382.75L61.54 382.75L63.01 382.75L64.48 382.75L65.95 382.75L67.42 382.75L68.89 382.75L70.36 382.75L71.83 382.75L73.3 382.75L74.77 382.75L76.23 382.75L77.7 382.75L79.17 382.75L80.64 382.75L82.11 382.76L83.58 382.76L85.05 382.76L86.52 382.76L87.99 382.76L89.46 382.76L90.93 382.76L92.4 382.76L93.87 382.76L95.34 382.76L96.81 382.76L98.28 382.76L99.75 382.76L101.22 382.76L102.69 382.76L104.16 382.76L105.63 382.77L107.1 382.77L108.57 382.77L110.03 382.78L111.5 382.78L112.97 382.79L114.44 382.79L115.91 382.8L117.38 382.81L118.85 382.82L120.32 382.84L121.79 382.86L123.26 382.88L124.73 382.91L126.2 382.94L127.67 382.98L129.14 383.03L130.61 383.1L132.08 383.17L133.55 383.27L135.02 383.38L136.49 383.52L137.96 383.68L139.43 383.89L140.9 384.14L142.36 384.44L143.83 384.81L145.3 385.26L146.77 385.8L148.24 386.46L149.71 387.26L151.18 388.21L152.65 389.36L154.12 390.73L155.59 392.36L157.06 394.28L158.53 396.55L160 399.18L161.47 402.23L162.94 405.71L164.41 409.65L165.88 414.03L167.35 418.84L168.82 424.04L170.29 429.54L171.76 435.28L173.23 441.12L174.7 446.97L176.16 452.71L177.63 458.22L179.1 463.41L180.57 468.23L182.04 472.62L183.51 476.55L184.98 480.04L186.45 483.09L187.92 485.73L189.39 488L190.86 489.93L192.33 491.56L193.8 492.93L195.27 494.08L196.74 495.03L198.21 495.83L199.68 496.49L201.15 497.03L202.62 497.48L204.09 497.85L205.56 498.15L207.03 498.4L208.5 498.61L209.96 498.78L211.43 498.92L212.9 499.03L214.37 499.12L215.84 499.2L217.31 499.26L218.78 499.31L220.25 499.35L221.72 499.39L223.19 499.42L224.66 499.44L226.13 499.46L227.6 499.47L229.07 499.49L230.54 499.5L232.01 499.5L233.48 499.51L234.95 499.52L236.42 499.52L237.89 499.53L239.36 499.53L240.83 499.53L242.29 499.53L243.76 499.53L245.23 499.54L246.7 499.54L248.17 499.54L249.64 499.54L251.11 499.54L252.58 499.54L254.05 499.54L255.52 499.54L256.99 499.54L258.46 499.54L259.93 499.54L261.4 499.54L262.87 499.54L264.34 499.54L265.81 499.54L267.28 499.54L268.75 499.54L270.22 499.54L271.69 499.54L273.16 499.54L274.63 499.54L276.09 499.54L277.56 499.54L279.03 499.54L280.5 499.54L281.97 499.54L283.44 499.54L284.91 499.54L286.38 499.54L287.85 499.54L289.32 499.54L290.79 499.54L292.26 499.54L293.73 499.54" fill="none" stroke="#1414ff" stroke-width="1.5"/>
<line x1="43.3" y1="383.21" x2="52.3" y2="383.21" stroke="#1414ff" stroke-width="1.5" />
<line x1="91.3" y1="356.83" x2="91.3" y2="400.56" stroke="#ffa24a" stroke-width="1.0" />
<line x1="88.55" y1="356.83" x2="94.05" y2="356.83" stroke="#ffa24a" stroke-width="1.0" />
<line x1="88.55" y1="400.56" x2="94.05" y2="400.56" stroke="#ffa24a" stroke-width="1.0" />
<line x1="116.4" y1="375.45" x2="116.4" y2="418.73" stroke="#ffa24a" stroke-width="1.0" />
<line x1="113.65" y1="375.45" x2="119.15" y2="375.45" stroke="#ffa24a" stroke-width="1.0" />
<line x1="113.65" y1="418.73" x2="119.15" y2="418.73" stroke="#ffa24a" stroke-width="1.0" />
<line x1="142.1" y1="396.63" x2="142.1" y2="425.09" stroke="#ffa24a" stroke-width="1.0" />
<line x1="139.35" y1="396.63" x2="144.85" y2="396.63" stroke="#ffa24a" stroke-width="1.0" />
<line x1="139.35" y1="425.09" x2="144.85" y2="425.09" stroke="#ffa24a" stroke-width="1.0" />
<line x1="167.4" y1="380.89" x2="167.4" y2="419.07" stroke="#ffa24a" stroke-width="1.0" />
<line x1="164.65" y1="380.89" x2="170.15" y2="380.89" stroke="#ffa24a" stroke-width="1.0" />
<line x1="164.65" y1="419.07" x2="170.15" y2="419.07" stroke="#ffa24a" stroke-width="1.0" />
<line x1="192.5" y1="396.63" x2="192.5" y2="433.3" stroke="#ffa24a" stroke-width="1.0" />
<line x1="189.75" y1="396.63" x2="195.25" y2="396.63" stroke="#ffa24a" stroke-width="1.0" />
<line x1="189.75" y1="433.3" x2="195.25" y2="433.3" stroke="#ffa24a" stroke-width="1.0" />
<line x1="217.9" y1="453.32" x2="217.9" y2="480.39" stroke="#ffa24a" stroke-width="1.0" />
<line x1="215.15" y1="453.32" x2="220.65" y2="453.32" stroke="#ffa24a" stroke-width="1.0" />
<line x1="215.15" y1="480.39" x2="220.65" y2="480.39" stroke="#ffa24a" stroke-width="1.0" />
<line x1="43.1" y1="363.65" x2="43.1" y2="403.34" stroke="#1414ff" stroke-width="1.0" />
<line x1="40.35" y1="363.65" x2="45.85" y2="363.65" stroke="#1414ff" stroke-width="1.0" />
<line x1="40.35" y1="403.34" x2="45.85" y2="403.34" stroke="#1414ff" stroke-width="1.0" />
<line x1="91.3" y1="352.08" x2="91.3" y2="387.95" stroke="#1414ff" stroke-width="1.0" />
<line x1="88.55" y1="352.08" x2="94.05" y2="352.08" stroke="#1414ff" stroke-width="1.0" />
<line x1="88.55" y1="387.95" x2="94.05" y2="387.95" stroke="#1414ff" stroke-width="1.0" />
<line x1="116.4" y1="360.07" x2="116.4" y2="429.49" stroke="#1414ff" stroke-width="1.0" />
<line x1="113.65" y1="360.07" x2="119.15" y2="360.07" stroke="#1414ff" stroke-width="1.0" />
<line x1="113.65" y1="429.49" x2="119.15" y2="429.49" stroke="#1414ff" stroke-width="1.0" />
<line x1="142.1" y1="362.73" x2="142.1" y2="402.64" stroke="#1414ff" stroke-width="1.0" />
<line x1="139.35" y1="362.73" x2="144.85" y2="362.73" stroke="#1414ff" stroke-width="1.0" />
<line x1="139.35" y1="402.64" x2="144.85" y2="402.64" stroke="#1414ff" stroke-width="1.0" />
<line x1="167.4" y1="396.63" x2="167.4" y2="440.25" stroke="#1414ff" stroke-width="1.0" />
<line x1="164.65" y1="396.63" x2="170.15" y2="396.63" stroke="#1414ff" stroke-width="1.0" />
<line x1="164.65" y1="440.25" x2="170.15" y2="440.25" stroke="#1414ff" stroke-width="1.0" />
<line x1="192.5" y1="481.32" x2="192.5" y2="497.05" stroke="#1414ff" stroke-width="1.0" />
<line x1="189.75" y1="481.32" x2="195.25" y2="481.32" stroke="#1414ff" stroke-width="1.0" />
<line x1="189.75" y1="497.05" x2="195.25" y2="497.05" stroke="#1414ff" stroke-width="1.0" />
<line x1="43.1" y1="366.66" x2="43.1" y2="401.37" stroke="#000" stroke-width="1.0" />
<line x1="40.35" y1="366.66" x2="45.85" y2="366.66" stroke="#000" stroke-width="1.0" />
<line x1="40.35" y1="401.37" x2="45.85" y2="401.37" stroke="#000" stroke-width="1.0" />
<line x1="91.3" y1="361.69" x2="91.3" y2="404.84" stroke="#000" stroke-width="1.0" />
<line x1="88.55" y1="361.69" x2="94.05" y2="361.69" stroke="#000" stroke-width="1.0" />
<line x1="88.55" y1="404.84" x2="94.05" y2="404.84" stroke="#000" stroke-width="1.0" />
<line x1="116.4" y1="364.46" x2="116.4" y2="404.96" stroke="#000" stroke-width="1.0" />
<line x1="113.65" y1="364.46" x2="119.15" y2="364.46" stroke="#000" stroke-width="1.0" />
<line x1="113.65" y1="404.96" x2="119.15" y2="404.96" stroke="#000" stroke-width="1.0" />
<line x1="142.1" y1="365.16" x2="142.1" y2="387.72" stroke="#000" stroke-width="1.0" />
<line x1="139.35" y1="365.16" x2="144.85" y2="365.16" stroke="#000" stroke-width="1.0" />
<line x1="139.35" y1="387.72" x2="144.85" y2="387.72" stroke="#000" stroke-width="1.0" />
<line x1="167.4" y1="377.65" x2="167.4" y2="404.96" stroke="#000" stroke-width="1.0" />
<line x1="164.65" y1="377.65" x2="170.15" y2="377.65" stroke="#000" stroke-width="1.0" />
<line x1="164.65" y1="404.96" x2="170.15" y2="404.96" stroke="#000" stroke-width="1.0" />
<line x1="192.5" y1="383.21" x2="192.5" y2="419.77" stroke="#000" stroke-width="1.0" />
<line x1="189.75" y1="383.21" x2="195.25" y2="383.21" stroke="#000" stroke-width="1.0" />
<line x1="189.75" y1="419.77" x2="195.25" y2="419.77" stroke="#000" stroke-width="1.0" />
<line x1="217.9" y1="414.56" x2="217.9" y2="446.38" stroke="#000" stroke-width="1.0" />
<line x1="215.15" y1="414.56" x2="220.65" y2="414.56" stroke="#000" stroke-width="1.0" />
<line x1="215.15" y1="446.38" x2="220.65" y2="446.38" stroke="#000" stroke-width="1.0" />
<line x1="243.1" y1="481.32" x2="243.1" y2="499.6" stroke="#000" stroke-width="1.0" />
<line x1="240.35" y1="481.32" x2="245.85" y2="481.32" stroke="#000" stroke-width="1.0" />
<line x1="240.35" y1="499.6" x2="245.85" y2="499.6" stroke="#000" stroke-width="1.0" />
<line x1="268.4" y1="473.8" x2="268.4" y2="499.6" stroke="#000" stroke-width="1.0" />
<line x1="265.65" y1="473.8" x2="271.15" y2="473.8" stroke="#000" stroke-width="1.0" />
<line x1="265.65" y1="499.6" x2="271.15" y2="499.6" stroke="#000" stroke-width="1.0" />
<path d="M43.1 382L43.1 385.8M41.2 383.9L45 383.9" stroke="#ffa24a" stroke-width="1.4" fill="none"/>
<path d="M91.3 376.79L91.3 380.59M89.4 378.69L93.2 378.69" stroke="#ffa24a" stroke-width="1.4" fill="none"/>
<path d="M116.4 395.88L116.4 399.68M114.5 397.78L118.3 397.78" stroke="#ffa24a" stroke-width="1.4" fill="none"/>
<path d="M142.1 408.96L142.1 412.76M140.2 410.86L144 410.86" stroke="#ffa24a" stroke-width="1.4" fill="none"/>
<path d="M167.4 397.74L167.4 401.54M165.5 399.64L169.3 399.64" stroke="#ffa24a" stroke-width="1.4" fill="none"/>
<path d="M192.5 414.86L192.5 418.66M190.6 416.76L194.4 416.76" stroke="#ffa24a" stroke-width="1.4" fill="none"/>
<path d="M217.9 464.96L217.9 468.76M216 466.86L219.8 466.86" stroke="#ffa24a" stroke-width="1.4" fill="none"/>
<path d="M243.1 496.54L243.1 500.34M241.2 498.44L245 498.44" stroke="#ffa24a" stroke-width="1.4" fill="none"/>
<path d="M268.4 497.12L268.4 500.92M266.5 499.02L270.3 499.02" stroke="#ffa24a" stroke-width="1.4" fill="none"/>
<path d="M293.7 497.12L293.7 500.92M291.8 499.02L295.6 499.02" stroke="#ffa24a" stroke-width="1.4" fill="none"/>
<path d="M43.1 386.64L46.3 380.88L39.9 380.88Z" fill="#1414ff"/>
<path d="M91.3 372.75L94.5 366.99L88.1 366.99Z" fill="#1414ff"/>
<path d="M116.4 397.05L119.6 391.29L113.2 391.29Z" fill="#1414ff"/>
<path d="M142.1 385.25L145.3 379.49L138.9 379.49Z" fill="#1414ff"/>
<path d="M167.4 419.96L170.6 414.2L164.2 414.2Z" fill="#1414ff"/>
<path d="M192.5 492.16L195.7 486.4L189.3 486.4Z" fill="#1414ff"/>
<path d="M217.9 502.8L221.1 497.04L214.7 497.04Z" fill="#1414ff"/>
<path d="M243.1 502.8L246.3 497.04L239.9 497.04Z" fill="#1414ff"/>
<path d="M268.4 502.8L271.6 497.04L265.2 497.04Z" fill="#1414ff"/>
<path d="M293.7 502.8L296.9 497.04L290.5 497.04Z" fill="#1414ff"/>
<path d="M43.1 380.7L46.3 383.9L43.1 387.1L39.9 383.9Z" fill="#000"/>
<path d="M91.3 380.35L94.5 383.55L91.3 386.75L88.1 383.55Z" fill="#000"/>
<path d="M116.4 381.51L119.6 384.71L116.4 387.91L113.2 384.71Z" fill="#000"/>
<path d="M142.1 373.64L145.3 376.84L142.1 380.04L138.9 376.84Z" fill="#000"/>
<path d="M167.4 388.22L170.6 391.42L167.4 394.62L164.2 391.42Z" fill="#000"/>
<path d="M192.5 397.94L195.7 401.14L192.5 404.34L189.3 401.14Z" fill="#000"/>
<path d="M217.9 427.56L221.1 430.76L217.9 433.96L214.7 430.76Z" fill="#000"/>
<path d="M243.1 488.88L246.3 492.08L243.1 495.28L239.9 492.08Z" fill="#000"/>
<path d="M268.4 487.26L271.6 490.46L268.4 493.66L265.2 490.46Z" fill="#000"/>
<path d="M293.7 495.82L296.9 499.02L293.7 502.22L290.5 499.02Z" fill="#000"/>
<line x1="38.3" y1="325.55" x2="38.3" y2="500.4" stroke="#000" stroke-width="1.7" />
<text x="32.3" y="503.5" font-size="10.8" font-weight="bold" text-anchor="end" fill="#000" >0</text>
<line x1="34.1" y1="470.68" x2="38.3" y2="470.68" stroke="#000" stroke-width="1.5" />
<text x="32.3" y="474.57" font-size="10.8" font-weight="bold" text-anchor="end" fill="#000" >25</text>
<line x1="34.1" y1="441.75" x2="38.3" y2="441.75" stroke="#000" stroke-width="1.5" />
<text x="32.3" y="445.65" font-size="10.8" font-weight="bold" text-anchor="end" fill="#000" >50</text>
<line x1="34.1" y1="412.83" x2="38.3" y2="412.83" stroke="#000" stroke-width="1.5" />
<text x="32.3" y="416.73" font-size="10.8" font-weight="bold" text-anchor="end" fill="#000" >75</text>
<line x1="34.1" y1="383.9" x2="38.3" y2="383.9" stroke="#000" stroke-width="1.5" />
<text x="32.3" y="387.8" font-size="10.8" font-weight="bold" text-anchor="end" fill="#000" >100</text>
<line x1="34.1" y1="354.98" x2="38.3" y2="354.98" stroke="#000" stroke-width="1.5" />
<text x="32.3" y="358.88" font-size="10.8" font-weight="bold" text-anchor="end" fill="#000" >125</text>
<line x1="34.1" y1="326.05" x2="38.3" y2="326.05" stroke="#000" stroke-width="1.5" />
<text x="32.3" y="329.95" font-size="10.8" font-weight="bold" text-anchor="end" fill="#000" >150</text>
<line x1="37.5" y1="499.6" x2="52.6" y2="499.6" stroke="#000" stroke-width="1.7" />
<line x1="58.9" y1="499.6" x2="315" y2="499.6" stroke="#000" stroke-width="1.7" />
<line x1="52.6" y1="497.2" x2="52.6" y2="502" stroke="#000" stroke-width="1.7" />
<line x1="58.9" y1="497.2" x2="58.9" y2="502" stroke="#000" stroke-width="1.7" />
<circle cx="56" cy="499.6" r="0.6" fill="#000"/>
<line x1="43.1" y1="499.6" x2="43.1" y2="503.9" stroke="#000" stroke-width="1.6" />
<line x1="64.91" y1="499.6" x2="64.91" y2="502.1" stroke="#000" stroke-width="1.1" />
<line x1="74.28" y1="499.6" x2="74.28" y2="502.1" stroke="#000" stroke-width="1.1" />
<line x1="80.93" y1="499.6" x2="80.93" y2="502.1" stroke="#000" stroke-width="1.1" />
<line x1="86.09" y1="499.6" x2="86.09" y2="502.1" stroke="#000" stroke-width="1.1" />
<line x1="90.3" y1="499.6" x2="90.3" y2="502.1" stroke="#000" stroke-width="1.1" />
<line x1="93.86" y1="499.6" x2="93.86" y2="502.1" stroke="#000" stroke-width="1.1" />
<line x1="96.94" y1="499.6" x2="96.94" y2="502.1" stroke="#000" stroke-width="1.1" />
<line x1="99.67" y1="499.6" x2="99.67" y2="502.1" stroke="#000" stroke-width="1.1" />
<line x1="102.1" y1="499.6" x2="102.1" y2="503.6" stroke="#000" stroke-width="1.3" />
<line x1="118.11" y1="499.6" x2="118.11" y2="502.1" stroke="#000" stroke-width="1.1" />
<line x1="127.48" y1="499.6" x2="127.48" y2="502.1" stroke="#000" stroke-width="1.1" />
<line x1="134.13" y1="499.6" x2="134.13" y2="502.1" stroke="#000" stroke-width="1.1" />
<line x1="139.29" y1="499.6" x2="139.29" y2="502.1" stroke="#000" stroke-width="1.1" />
<line x1="143.5" y1="499.6" x2="143.5" y2="502.1" stroke="#000" stroke-width="1.1" />
<line x1="147.06" y1="499.6" x2="147.06" y2="502.1" stroke="#000" stroke-width="1.1" />
<line x1="150.14" y1="499.6" x2="150.14" y2="502.1" stroke="#000" stroke-width="1.1" />
<line x1="152.87" y1="499.6" x2="152.87" y2="502.1" stroke="#000" stroke-width="1.1" />
<line x1="155.3" y1="499.6" x2="155.3" y2="503.6" stroke="#000" stroke-width="1.3" />
<line x1="171.31" y1="499.6" x2="171.31" y2="502.1" stroke="#000" stroke-width="1.1" />
<line x1="180.68" y1="499.6" x2="180.68" y2="502.1" stroke="#000" stroke-width="1.1" />
<line x1="187.33" y1="499.6" x2="187.33" y2="502.1" stroke="#000" stroke-width="1.1" />
<line x1="192.49" y1="499.6" x2="192.49" y2="502.1" stroke="#000" stroke-width="1.1" />
<line x1="196.7" y1="499.6" x2="196.7" y2="502.1" stroke="#000" stroke-width="1.1" />
<line x1="200.26" y1="499.6" x2="200.26" y2="502.1" stroke="#000" stroke-width="1.1" />
<line x1="203.34" y1="499.6" x2="203.34" y2="502.1" stroke="#000" stroke-width="1.1" />
<line x1="206.07" y1="499.6" x2="206.07" y2="502.1" stroke="#000" stroke-width="1.1" />
<line x1="208.5" y1="499.6" x2="208.5" y2="503.6" stroke="#000" stroke-width="1.3" />
<line x1="224.51" y1="499.6" x2="224.51" y2="502.1" stroke="#000" stroke-width="1.1" />
<line x1="233.88" y1="499.6" x2="233.88" y2="502.1" stroke="#000" stroke-width="1.1" />
<line x1="240.53" y1="499.6" x2="240.53" y2="502.1" stroke="#000" stroke-width="1.1" />
<line x1="245.69" y1="499.6" x2="245.69" y2="502.1" stroke="#000" stroke-width="1.1" />
<line x1="249.9" y1="499.6" x2="249.9" y2="502.1" stroke="#000" stroke-width="1.1" />
<line x1="253.46" y1="499.6" x2="253.46" y2="502.1" stroke="#000" stroke-width="1.1" />
<line x1="256.54" y1="499.6" x2="256.54" y2="502.1" stroke="#000" stroke-width="1.1" />
<line x1="259.27" y1="499.6" x2="259.27" y2="502.1" stroke="#000" stroke-width="1.1" />
<line x1="261.7" y1="499.6" x2="261.7" y2="503.6" stroke="#000" stroke-width="1.3" />
<line x1="277.71" y1="499.6" x2="277.71" y2="502.1" stroke="#000" stroke-width="1.1" />
<line x1="287.08" y1="499.6" x2="287.08" y2="502.1" stroke="#000" stroke-width="1.1" />
<line x1="293.73" y1="499.6" x2="293.73" y2="502.1" stroke="#000" stroke-width="1.1" />
<line x1="298.89" y1="499.6" x2="298.89" y2="502.1" stroke="#000" stroke-width="1.1" />
<line x1="303.1" y1="499.6" x2="303.1" y2="502.1" stroke="#000" stroke-width="1.1" />
<line x1="306.66" y1="499.6" x2="306.66" y2="502.1" stroke="#000" stroke-width="1.1" />
<line x1="309.74" y1="499.6" x2="309.74" y2="502.1" stroke="#000" stroke-width="1.1" />
<line x1="312.47" y1="499.6" x2="312.47" y2="502.1" stroke="#000" stroke-width="1.1" />
<line x1="314.9" y1="499.6" x2="314.9" y2="503.6" stroke="#000" stroke-width="1.3" />
<text x="43.1" y="516.2" font-size="10.8" font-weight="bold" text-anchor="middle" fill="#000" >0</text>
<text x="102.1" y="516.2" font-size="10.8" font-weight="bold" text-anchor="middle" fill="#000" >0.01</text>
<text x="155.3" y="516.2" font-size="10.8" font-weight="bold" text-anchor="middle" fill="#000" >0.1</text>
<text x="208.5" y="516.2" font-size="10.8" font-weight="bold" text-anchor="middle" fill="#000" >1</text>
<text x="261.7" y="516.2" font-size="10.8" font-weight="bold" text-anchor="middle" fill="#000" >10</text>
<text x="314.9" y="516.2" font-size="10.8" font-weight="bold" text-anchor="middle" fill="#000" >100</text>
<text x="176.9" y="531.5" font-size="11.3" font-weight="bold" text-anchor="middle" fill="#000" >Concentration (µM)</text>
<line x1="176.1" y1="326.8" x2="187" y2="326.8" stroke="#000" stroke-width="1.4" />
<path d="M181.55 323.44L184.91 326.8L181.55 330.16L178.19 326.8Z" fill="#000"/>
<text x="192.6" y="324.5" font-size="11.3" font-weight="normal" text-anchor="start" fill="#1a1a1a" >Chlorfenapy</text>
<text x="265.8" y="324.6" font-size="11.4" font-weight="normal" text-anchor="start" fill="#1a1a1a" >1.652 ± 0.449</text>
<line x1="176.1" y1="335.2" x2="187" y2="335.2" stroke="#ffa24a" stroke-width="1.4" />
<path d="M181.55 333.3L181.55 337.1M179.65 335.2L183.45 335.2" stroke="#ffa24a" stroke-width="1.4" fill="none"/>
<text x="192.6" y="339.2" font-size="11.3" font-weight="normal" text-anchor="start" fill="#1a1a1a" >Tolfenpyrad</text>
<text x="265.8" y="339.3" font-size="11.4" font-weight="normal" text-anchor="start" fill="#1a1a1a" >0.950 ± 0.256</text>
<line x1="176.1" y1="350.2" x2="187" y2="350.2" stroke="#1414ff" stroke-width="1.4" />
<path d="M181.55 353.4L184.75 347.64L178.35 347.64Z" fill="#1414ff"/>
<text x="192.6" y="353.9" font-size="11.3" font-weight="normal" text-anchor="start" fill="#1a1a1a" >Flufenerim</text>
<text x="265.8" y="354" font-size="11.4" font-weight="normal" text-anchor="start" fill="#1a1a1a" >0.211 ± 0.034</text>
<text x="301.2" y="310.6" font-size="11.4" font-weight="bold" text-anchor="middle" fill="#000" >EC50 (µM)</text>
<line x1="258" y1="313.4" x2="343.7" y2="313.4" stroke="#000" stroke-width="1.3" />
<circle cx="343.7" cy="327.7" r="0.6" fill="#000"/>
<line x1="194" y1="330.9" x2="194" y2="336.3" stroke="#707070" stroke-width="1.3" />
<text x="359" y="306" font-size="14.5" font-weight="bold" text-anchor="start" fill="#000" >D</text>
<path d="M409.5 376.72L411.01 376.8L412.52 376.87L414.02 376.94L415.53 377.01L417.04 377.07L418.55 377.13L420.06 377.18L421.57 377.23L423.07 377.28L424.58 377.32L426.09 377.35L427.6 377.39L429.11 377.42L430.61 377.44L432.12 377.47L433.63 377.49L435.14 377.5L436.65 377.52L438.16 377.53L439.66 377.54L441.17 377.55L442.68 377.55L444.19 377.55L445.7 377.55L447.2 377.55L448.71 377.55L450.22 377.54L451.73 377.54L453.24 377.53L454.75 377.52L456.25 377.51L457.76 377.5L459.27 377.49L460.78 377.47L462.29 377.46L463.79 377.45L465.3 377.43L466.81 377.42L468.32 377.4L469.83 377.39L471.34 377.38L472.84 377.36L474.35 377.35L475.86 377.34L477.37 377.33L478.88 377.32L480.38 377.31L481.89 377.3L483.4 377.29L484.91 377.29L486.42 377.29L487.93 377.28L489.43 377.28L490.94 377.29L492.45 377.29L493.96 377.3L495.47 377.31L496.97 377.32L498.48 377.33L499.99 377.35L501.5 377.37L503.01 377.39L504.52 377.42L506.02 377.45L507.53 377.49L509.04 377.52L510.55 377.56L512.06 377.61L513.56 377.66L515.07 377.71L516.58 377.77L518.09 377.83L519.6 377.9L521.11 377.97L522.61 378.04L524.12 378.13L525.63 378.21L527.14 378.3L528.65 378.4L530.15 378.5L531.66 378.61L533.17 378.73L534.68 378.85L536.19 378.97L537.69 379.11L539.2 379.24L540.71 379.39L542.22 379.54L543.73 379.7L545.24 379.87L546.74 380.04L548.25 380.22L549.76 380.41L551.27 380.6L552.78 380.8L554.28 381.01L555.79 381.23L557.3 381.46L558.81 381.69L560.32 381.93L561.83 382.18L563.33 382.44L564.84 382.71L566.35 382.99L567.86 383.27L569.37 383.57L570.87 383.87L572.38 384.19L573.89 384.51L575.4 384.84L576.91 385.19L578.42 385.55L579.92 385.92L581.43 386.32L582.94 386.73L584.45 387.17L585.96 387.62L587.46 388.1L588.97 388.61L590.48 389.15L591.99 389.72L593.5 390.32L595.01 390.95L596.51 391.62L598.02 392.33L599.53 393.07L601.04 393.86L602.55 394.68L604.05 395.56L605.56 396.48L607.07 397.44L608.58 398.46L610.09 399.53L611.6 400.65L613.1 401.83L614.61 403.06L616.12 404.36L617.63 405.73L619.14 407.18L620.64 408.73L622.15 410.38L623.66 412.15L625.17 414.04L626.68 416.07L628.19 418.24L629.69 420.57L631.2 423.06L632.71 425.73L634.22 428.58L635.73 431.62L637.23 434.87L638.74 438.34L640.25 442.03L641.76 445.96L643.27 450.14L644.78 454.57L646.28 459.27L647.79 464.24L649.3 469.5" fill="none" stroke="#938a20" stroke-width="1.5"/>
<line x1="393.6" y1="376.86" x2="401.9" y2="376.86" stroke="#938a20" stroke-width="1.5" />
<path d="M409.5 383.42L411.1 383.44L412.7 383.46L414.29 383.48L415.89 383.5L417.49 383.52L419.09 383.55L420.69 383.57L422.29 383.59L423.88 383.62L425.48 383.64L427.08 383.67L428.68 383.7L430.28 383.73L431.87 383.76L433.47 383.79L435.07 383.82L436.67 383.86L438.27 383.89L439.86 383.93L441.46 383.96L443.06 384L444.66 384.04L446.26 384.08L447.86 384.13L449.45 384.17L451.05 384.22L452.65 384.26L454.25 384.31L455.85 384.36L457.44 384.42L459.04 384.47L460.64 384.53L462.24 384.59L463.84 384.65L465.43 384.71L467.03 384.78L468.63 384.84L470.23 384.91L471.83 384.99L473.43 385.06L475.02 385.14L476.62 385.22L478.22 385.3L479.82 385.39L481.42 385.48L483.01 385.57L484.61 385.67L486.21 385.77L487.81 385.87L489.41 385.97L491 386.08L492.6 386.2L494.2 386.32L495.8 386.44L497.4 386.56L499 386.7L500.59 386.83L502.19 386.97L503.79 387.12L505.39 387.27L506.99 387.42L508.58 387.58L510.18 387.75L511.78 387.92L513.38 388.1L514.98 388.28L516.57 388.47L518.17 388.67L519.77 388.87L521.37 389.08L522.97 389.3L524.57 389.52L526.16 389.75L527.76 389.99L529.36 390.24L530.96 390.5L532.56 390.76L534.15 391.04L535.75 391.32L537.35 391.61L538.95 391.91L540.55 392.22L542.14 392.54L543.74 392.87L545.34 393.22L546.94 393.57L548.54 393.94L550.13 394.31L551.73 394.7L553.33 395.1L554.93 395.51L556.53 395.94L558.13 396.38L559.72 396.83L561.32 397.3L562.92 397.78L564.52 398.27L566.12 398.78L567.71 399.31L569.31 399.85L570.91 400.4L572.51 400.98L574.11 401.57L575.71 402.17L577.3 402.79L578.9 403.44L580.5 404.09L582.1 404.77L583.7 405.47L585.29 406.18L586.89 406.91L588.49 407.66L590.09 408.43L591.69 409.23L593.28 410.04L594.88 410.87L596.48 411.72L598.08 412.59L599.68 413.49L601.28 414.4L602.87 415.34L604.47 416.3L606.07 417.28L607.67 418.28L609.27 419.3L610.86 420.34L612.46 421.41L614.06 422.49L615.66 423.6L617.26 424.73L618.85 425.88L620.45 427.06L622.05 428.25L623.65 429.46L625.25 430.7L626.85 431.95L628.44 433.23L630.04 434.52L631.64 435.84L633.24 437.17L634.84 438.52L636.43 439.89L638.03 441.27L639.63 442.67L641.23 444.09L642.83 445.53L644.42 446.97L646.02 448.44L647.62 449.91L649.22 451.4L650.82 452.9L652.42 454.41L654.01 455.93L655.61 457.46L657.21 458.99L658.81 460.54L660.41 462.09L662 463.64L663.6 465.2L665.2 466.77" fill="none" stroke="#22cc22" stroke-width="1.5"/>
<line x1="393.6" y1="383.79" x2="401.9" y2="383.79" stroke="#22cc22" stroke-width="1.5" />
<line x1="453" y1="355.61" x2="453" y2="388.53" stroke="#a09840" stroke-width="1.0" />
<line x1="450.25" y1="355.61" x2="455.75" y2="355.61" stroke="#a09840" stroke-width="1.0" />
<line x1="450.25" y1="388.53" x2="455.75" y2="388.53" stroke="#a09840" stroke-width="1.0" />
<line x1="469.3" y1="362.89" x2="469.3" y2="395" stroke="#a09840" stroke-width="1.0" />
<line x1="466.55" y1="362.89" x2="472.05" y2="362.89" stroke="#a09840" stroke-width="1.0" />
<line x1="466.55" y1="395" x2="472.05" y2="395" stroke="#a09840" stroke-width="1.0" />
<line x1="498" y1="363.35" x2="498" y2="396.15" stroke="#a09840" stroke-width="1.0" />
<line x1="495.25" y1="363.35" x2="500.75" y2="363.35" stroke="#a09840" stroke-width="1.0" />
<line x1="495.25" y1="396.15" x2="500.75" y2="396.15" stroke="#a09840" stroke-width="1.0" />
<line x1="523.2" y1="350.64" x2="523.2" y2="382.98" stroke="#a09840" stroke-width="1.0" />
<line x1="520.45" y1="350.64" x2="525.95" y2="350.64" stroke="#a09840" stroke-width="1.0" />
<line x1="520.45" y1="382.98" x2="525.95" y2="382.98" stroke="#a09840" stroke-width="1.0" />
<line x1="548.2" y1="365.2" x2="548.2" y2="395.46" stroke="#a09840" stroke-width="1.0" />
<line x1="545.45" y1="365.2" x2="550.95" y2="365.2" stroke="#a09840" stroke-width="1.0" />
<line x1="545.45" y1="395.46" x2="550.95" y2="395.46" stroke="#a09840" stroke-width="1.0" />
<line x1="573.4" y1="380.44" x2="573.4" y2="407.24" stroke="#a09840" stroke-width="1.0" />
<line x1="570.65" y1="380.44" x2="576.15" y2="380.44" stroke="#a09840" stroke-width="1.0" />
<line x1="570.65" y1="407.24" x2="576.15" y2="407.24" stroke="#a09840" stroke-width="1.0" />
<line x1="598.5" y1="381.37" x2="598.5" y2="409.78" stroke="#a09840" stroke-width="1.0" />
<line x1="595.75" y1="381.37" x2="601.25" y2="381.37" stroke="#a09840" stroke-width="1.0" />
<line x1="595.75" y1="409.78" x2="601.25" y2="409.78" stroke="#a09840" stroke-width="1.0" />
<line x1="624" y1="385.64" x2="624" y2="429.88" stroke="#a09840" stroke-width="1.0" />
<line x1="621.25" y1="385.64" x2="626.75" y2="385.64" stroke="#a09840" stroke-width="1.0" />
<line x1="621.25" y1="429.88" x2="626.75" y2="429.88" stroke="#a09840" stroke-width="1.0" />
<line x1="649.3" y1="463.49" x2="649.3" y2="481.27" stroke="#a09840" stroke-width="1.0" />
<line x1="646.55" y1="463.49" x2="652.05" y2="463.49" stroke="#a09840" stroke-width="1.0" />
<line x1="646.55" y1="481.27" x2="652.05" y2="481.27" stroke="#a09840" stroke-width="1.0" />
<line x1="393.4" y1="371.09" x2="393.4" y2="398.11" stroke="#66dd66" stroke-width="1.0" />
<line x1="390.65" y1="371.09" x2="396.15" y2="371.09" stroke="#66dd66" stroke-width="1.0" />
<line x1="390.65" y1="398.11" x2="396.15" y2="398.11" stroke="#66dd66" stroke-width="1.0" />
<line x1="469.3" y1="367.04" x2="469.3" y2="423.29" stroke="#66dd66" stroke-width="1.0" />
<line x1="466.55" y1="367.04" x2="472.05" y2="367.04" stroke="#66dd66" stroke-width="1.0" />
<line x1="466.55" y1="423.29" x2="472.05" y2="423.29" stroke="#66dd66" stroke-width="1.0" />
<line x1="490.2" y1="368.55" x2="490.2" y2="403.77" stroke="#66dd66" stroke-width="1.0" />
<line x1="487.45" y1="368.55" x2="492.95" y2="368.55" stroke="#66dd66" stroke-width="1.0" />
<line x1="487.45" y1="403.77" x2="492.95" y2="403.77" stroke="#66dd66" stroke-width="1.0" />
<line x1="516.8" y1="362.42" x2="516.8" y2="392.92" stroke="#66dd66" stroke-width="1.0" />
<line x1="514.05" y1="362.42" x2="519.55" y2="362.42" stroke="#66dd66" stroke-width="1.0" />
<line x1="514.05" y1="392.92" x2="519.55" y2="392.92" stroke="#66dd66" stroke-width="1.0" />
<line x1="542.6" y1="357.23" x2="542.6" y2="400.08" stroke="#66dd66" stroke-width="1.0" />
<line x1="539.85" y1="357.23" x2="545.35" y2="357.23" stroke="#66dd66" stroke-width="1.0" />
<line x1="539.85" y1="400.08" x2="545.35" y2="400.08" stroke="#66dd66" stroke-width="1.0" />
<line x1="567.8" y1="391.41" x2="567.8" y2="411.17" stroke="#66dd66" stroke-width="1.0" />
<line x1="565.05" y1="391.41" x2="570.55" y2="391.41" stroke="#66dd66" stroke-width="1.0" />
<line x1="565.05" y1="411.17" x2="570.55" y2="411.17" stroke="#66dd66" stroke-width="1.0" />
<line x1="593.3" y1="399.62" x2="593.3" y2="443.27" stroke="#66dd66" stroke-width="1.0" />
<line x1="590.55" y1="399.62" x2="596.05" y2="399.62" stroke="#66dd66" stroke-width="1.0" />
<line x1="590.55" y1="443.27" x2="596.05" y2="443.27" stroke="#66dd66" stroke-width="1.0" />
<line x1="618.9" y1="399.27" x2="618.9" y2="454.71" stroke="#66dd66" stroke-width="1.0" />
<line x1="616.15" y1="399.27" x2="621.65" y2="399.27" stroke="#66dd66" stroke-width="1.0" />
<line x1="616.15" y1="454.71" x2="621.65" y2="454.71" stroke="#66dd66" stroke-width="1.0" />
<line x1="644.1" y1="422.37" x2="644.1" y2="454.13" stroke="#66dd66" stroke-width="1.0" />
<line x1="641.35" y1="422.37" x2="646.85" y2="422.37" stroke="#66dd66" stroke-width="1.0" />
<line x1="641.35" y1="454.13" x2="646.85" y2="454.13" stroke="#66dd66" stroke-width="1.0" />
<line x1="665.2" y1="459.33" x2="665.2" y2="484.05" stroke="#66dd66" stroke-width="1.0" />
<line x1="662.45" y1="459.33" x2="667.95" y2="459.33" stroke="#66dd66" stroke-width="1.0" />
<line x1="662.45" y1="484.05" x2="667.95" y2="484.05" stroke="#66dd66" stroke-width="1.0" />
<circle cx="453" cy="373.17" r="2.3" fill="#fff" stroke="#938a20" stroke-width="1.15"/>
<path d="M450.7 373.17A2.3 2.3 0 0 1 455.3 373.17Z" fill="#938a20"/>
<circle cx="469.3" cy="379.29" r="2.3" fill="#fff" stroke="#938a20" stroke-width="1.15"/>
<path d="M467 379.29A2.3 2.3 0 0 1 471.6 379.29Z" fill="#938a20"/>
<circle cx="498" cy="379.75" r="2.3" fill="#fff" stroke="#938a20" stroke-width="1.15"/>
<path d="M495.7 379.75A2.3 2.3 0 0 1 500.3 379.75Z" fill="#938a20"/>
<circle cx="523.2" cy="366.93" r="2.3" fill="#fff" stroke="#938a20" stroke-width="1.15"/>
<path d="M520.9 366.93A2.3 2.3 0 0 1 525.5 366.93Z" fill="#938a20"/>
<circle cx="548.2" cy="379.98" r="2.3" fill="#fff" stroke="#938a20" stroke-width="1.15"/>
<path d="M545.9 379.98A2.3 2.3 0 0 1 550.5 379.98Z" fill="#938a20"/>
<circle cx="573.4" cy="394.07" r="2.3" fill="#fff" stroke="#938a20" stroke-width="1.15"/>
<path d="M571.1 394.07A2.3 2.3 0 0 1 575.7 394.07Z" fill="#938a20"/>
<circle cx="598.5" cy="395.46" r="2.3" fill="#fff" stroke="#938a20" stroke-width="1.15"/>
<path d="M596.2 395.46A2.3 2.3 0 0 1 600.8 395.46Z" fill="#938a20"/>
<circle cx="624" cy="408.28" r="2.3" fill="#fff" stroke="#938a20" stroke-width="1.15"/>
<path d="M621.7 408.28A2.3 2.3 0 0 1 626.3 408.28Z" fill="#938a20"/>
<circle cx="649.3" cy="472.26" r="2.3" fill="#fff" stroke="#938a20" stroke-width="1.15"/>
<path d="M647 472.26A2.3 2.3 0 0 1 651.6 472.26Z" fill="#938a20"/>
<path d="M390.5 381.47L396.3 387.27M396.3 381.47L390.5 387.27" stroke="#22cc22" stroke-width="1.5" fill="none"/>
<path d="M466.4 392.79L472.2 398.59M472.2 392.79L466.4 398.59" stroke="#22cc22" stroke-width="1.5" fill="none"/>
<path d="M487.3 383.2L493.1 389M493.1 383.2L487.3 389" stroke="#22cc22" stroke-width="1.5" fill="none"/>
<path d="M513.9 375.35L519.7 381.15M519.7 375.35L513.9 381.15" stroke="#22cc22" stroke-width="1.5" fill="none"/>
<path d="M539.7 375.93L545.5 381.73M545.5 375.93L539.7 381.73" stroke="#22cc22" stroke-width="1.5" fill="none"/>
<path d="M564.9 398.33L570.7 404.13M570.7 398.33L564.9 404.13" stroke="#22cc22" stroke-width="1.5" fill="none"/>
<path d="M590.4 418.54L596.2 424.34M596.2 418.54L590.4 424.34" stroke="#22cc22" stroke-width="1.5" fill="none"/>
<path d="M616 424.09L621.8 429.89M621.8 424.09L616 429.89" stroke="#22cc22" stroke-width="1.5" fill="none"/>
<path d="M641.2 435.29L647 441.09M647 435.29L641.2 441.09" stroke="#22cc22" stroke-width="1.5" fill="none"/>
<path d="M662.3 468.67L668.1 474.47M668.1 468.67L662.3 474.47" stroke="#22cc22" stroke-width="1.5" fill="none"/>
<line x1="389.05" y1="326.35" x2="389.05" y2="500.9" stroke="#000" stroke-width="1.7" />
<text x="382.85" y="504" font-size="10.8" font-weight="bold" text-anchor="end" fill="#000" >0</text>
<line x1="384.85" y1="471.23" x2="389.05" y2="471.23" stroke="#000" stroke-width="1.5" />
<text x="382.85" y="475.12" font-size="10.8" font-weight="bold" text-anchor="end" fill="#000" >25</text>
<line x1="384.85" y1="442.35" x2="389.05" y2="442.35" stroke="#000" stroke-width="1.5" />
<text x="382.85" y="446.25" font-size="10.8" font-weight="bold" text-anchor="end" fill="#000" >50</text>
<line x1="384.85" y1="413.48" x2="389.05" y2="413.48" stroke="#000" stroke-width="1.5" />
<text x="382.85" y="417.38" font-size="10.8" font-weight="bold" text-anchor="end" fill="#000" >75</text>
<line x1="384.85" y1="384.6" x2="389.05" y2="384.6" stroke="#000" stroke-width="1.5" />
<text x="382.85" y="388.5" font-size="10.8" font-weight="bold" text-anchor="end" fill="#000" >100</text>
<line x1="384.85" y1="355.73" x2="389.05" y2="355.73" stroke="#000" stroke-width="1.5" />
<text x="382.85" y="359.62" font-size="10.8" font-weight="bold" text-anchor="end" fill="#000" >125</text>
<line x1="384.85" y1="326.85" x2="389.05" y2="326.85" stroke="#000" stroke-width="1.5" />
<text x="382.85" y="330.75" font-size="10.8" font-weight="bold" text-anchor="end" fill="#000" >150</text>
<line x1="388.25" y1="500.1" x2="402.6" y2="500.1" stroke="#000" stroke-width="1.7" />
<line x1="409.8" y1="500.1" x2="665.8" y2="500.1" stroke="#000" stroke-width="1.7" />
<line x1="402.6" y1="497.7" x2="402.6" y2="502.5" stroke="#000" stroke-width="1.7" />
<line x1="409.8" y1="497.7" x2="409.8" y2="502.5" stroke="#000" stroke-width="1.7" />
<circle cx="406.6" cy="500.1" r="0.6" fill="#000"/>
<line x1="393.4" y1="500.1" x2="393.4" y2="504.4" stroke="#000" stroke-width="1.6" />
<line x1="414.68" y1="500.1" x2="414.68" y2="502.6" stroke="#000" stroke-width="1.1" />
<line x1="424.08" y1="500.1" x2="424.08" y2="502.6" stroke="#000" stroke-width="1.1" />
<line x1="430.75" y1="500.1" x2="430.75" y2="502.6" stroke="#000" stroke-width="1.1" />
<line x1="435.92" y1="500.1" x2="435.92" y2="502.6" stroke="#000" stroke-width="1.1" />
<line x1="440.15" y1="500.1" x2="440.15" y2="502.6" stroke="#000" stroke-width="1.1" />
<line x1="443.73" y1="500.1" x2="443.73" y2="502.6" stroke="#000" stroke-width="1.1" />
<line x1="446.83" y1="500.1" x2="446.83" y2="502.6" stroke="#000" stroke-width="1.1" />
<line x1="449.56" y1="500.1" x2="449.56" y2="502.6" stroke="#000" stroke-width="1.1" />
<line x1="452" y1="500.1" x2="452" y2="504.1" stroke="#000" stroke-width="1.3" />
<line x1="468.08" y1="500.1" x2="468.08" y2="502.6" stroke="#000" stroke-width="1.1" />
<line x1="477.48" y1="500.1" x2="477.48" y2="502.6" stroke="#000" stroke-width="1.1" />
<line x1="484.15" y1="500.1" x2="484.15" y2="502.6" stroke="#000" stroke-width="1.1" />
<line x1="489.32" y1="500.1" x2="489.32" y2="502.6" stroke="#000" stroke-width="1.1" />
<line x1="493.55" y1="500.1" x2="493.55" y2="502.6" stroke="#000" stroke-width="1.1" />
<line x1="497.13" y1="500.1" x2="497.13" y2="502.6" stroke="#000" stroke-width="1.1" />
<line x1="500.23" y1="500.1" x2="500.23" y2="502.6" stroke="#000" stroke-width="1.1" />
<line x1="502.96" y1="500.1" x2="502.96" y2="502.6" stroke="#000" stroke-width="1.1" />
<line x1="505.4" y1="500.1" x2="505.4" y2="504.1" stroke="#000" stroke-width="1.3" />
<line x1="521.48" y1="500.1" x2="521.48" y2="502.6" stroke="#000" stroke-width="1.1" />
<line x1="530.88" y1="500.1" x2="530.88" y2="502.6" stroke="#000" stroke-width="1.1" />
<line x1="537.55" y1="500.1" x2="537.55" y2="502.6" stroke="#000" stroke-width="1.1" />
<line x1="542.72" y1="500.1" x2="542.72" y2="502.6" stroke="#000" stroke-width="1.1" />
<line x1="546.95" y1="500.1" x2="546.95" y2="502.6" stroke="#000" stroke-width="1.1" />
<line x1="550.53" y1="500.1" x2="550.53" y2="502.6" stroke="#000" stroke-width="1.1" />
<line x1="553.63" y1="500.1" x2="553.63" y2="502.6" stroke="#000" stroke-width="1.1" />
<line x1="556.36" y1="500.1" x2="556.36" y2="502.6" stroke="#000" stroke-width="1.1" />
<line x1="558.8" y1="500.1" x2="558.8" y2="504.1" stroke="#000" stroke-width="1.3" />
<line x1="574.88" y1="500.1" x2="574.88" y2="502.6" stroke="#000" stroke-width="1.1" />
<line x1="584.28" y1="500.1" x2="584.28" y2="502.6" stroke="#000" stroke-width="1.1" />
<line x1="590.95" y1="500.1" x2="590.95" y2="502.6" stroke="#000" stroke-width="1.1" />
<line x1="596.12" y1="500.1" x2="596.12" y2="502.6" stroke="#000" stroke-width="1.1" />
<line x1="600.35" y1="500.1" x2="600.35" y2="502.6" stroke="#000" stroke-width="1.1" />
<line x1="603.93" y1="500.1" x2="603.93" y2="502.6" stroke="#000" stroke-width="1.1" />
<line x1="607.03" y1="500.1" x2="607.03" y2="502.6" stroke="#000" stroke-width="1.1" />
<line x1="609.76" y1="500.1" x2="609.76" y2="502.6" stroke="#000" stroke-width="1.1" />
<line x1="612.2" y1="500.1" x2="612.2" y2="504.1" stroke="#000" stroke-width="1.3" />
<line x1="628.28" y1="500.1" x2="628.28" y2="502.6" stroke="#000" stroke-width="1.1" />
<line x1="637.68" y1="500.1" x2="637.68" y2="502.6" stroke="#000" stroke-width="1.1" />
<line x1="644.35" y1="500.1" x2="644.35" y2="502.6" stroke="#000" stroke-width="1.1" />
<line x1="649.52" y1="500.1" x2="649.52" y2="502.6" stroke="#000" stroke-width="1.1" />
<line x1="653.75" y1="500.1" x2="653.75" y2="502.6" stroke="#000" stroke-width="1.1" />
<line x1="657.33" y1="500.1" x2="657.33" y2="502.6" stroke="#000" stroke-width="1.1" />
<line x1="660.43" y1="500.1" x2="660.43" y2="502.6" stroke="#000" stroke-width="1.1" />
<line x1="663.16" y1="500.1" x2="663.16" y2="502.6" stroke="#000" stroke-width="1.1" />
<line x1="665.6" y1="500.1" x2="665.6" y2="504.1" stroke="#000" stroke-width="1.3" />
<text x="393.4" y="516.7" font-size="10.8" font-weight="bold" text-anchor="middle" fill="#000" >0</text>
<text x="452" y="516.7" font-size="10.8" font-weight="bold" text-anchor="middle" fill="#000" >0.01</text>
<text x="505.4" y="516.7" font-size="10.8" font-weight="bold" text-anchor="middle" fill="#000" >0.1</text>
<text x="558.8" y="516.7" font-size="10.8" font-weight="bold" text-anchor="middle" fill="#000" >1</text>
<text x="612.2" y="516.7" font-size="10.8" font-weight="bold" text-anchor="middle" fill="#000" >10</text>
<text x="665.6" y="516.7" font-size="10.8" font-weight="bold" text-anchor="middle" fill="#000" >100</text>
<text x="527.4" y="532.2" font-size="11.3" font-weight="bold" text-anchor="middle" fill="#000" >Concentration (µM)</text>
<line x1="510.8" y1="320.7" x2="521.6" y2="320.7" stroke="#22cc22" stroke-width="1.4" />
<path d="M513.59 318.09L518.81 323.31M518.81 318.09L513.59 323.31" stroke="#22cc22" stroke-width="1.5" fill="none"/>
<text x="526.8" y="324.7" font-size="11.3" font-weight="normal" text-anchor="start" fill="#1a1a1a" >Flucofuron</text>
<text x="598.6" y="324.8" font-size="11.4" font-weight="normal" text-anchor="start" fill="#1a1a1a" >20.612 ± 10.674</text>
<line x1="510.8" y1="335.5" x2="521.6" y2="335.5" stroke="#938a20" stroke-width="1.4" />
<circle cx="516.2" cy="335.5" r="2.07" fill="#fff" stroke="#938a20" stroke-width="1.15"/>
<path d="M514.13 335.5A2.07 2.07 0 0 1 518.27 335.5Z" fill="#938a20"/>
<text x="526.8" y="339.5" font-size="11.3" font-weight="normal" text-anchor="start" fill="#1a1a1a" >Indomethacin</text>
<text x="598.6" y="339.6" font-size="11.4" font-weight="normal" text-anchor="start" fill="#1a1a1a" >23.174 ± 14.051</text>
<text x="641.1" y="310.4" font-size="11.4" font-weight="bold" text-anchor="middle" fill="#000" >EC50 (µM)</text>
<line x1="597.8" y1="312.6" x2="684.2" y2="312.6" stroke="#000" stroke-width="1.3" />
<line x1="340" y1="313.6" x2="343.5" y2="313.6" stroke="#000" stroke-width="1.0" />
<circle cx="683.5" cy="342.3" r="0.6" fill="#000"/>
</svg>
</body></html>
